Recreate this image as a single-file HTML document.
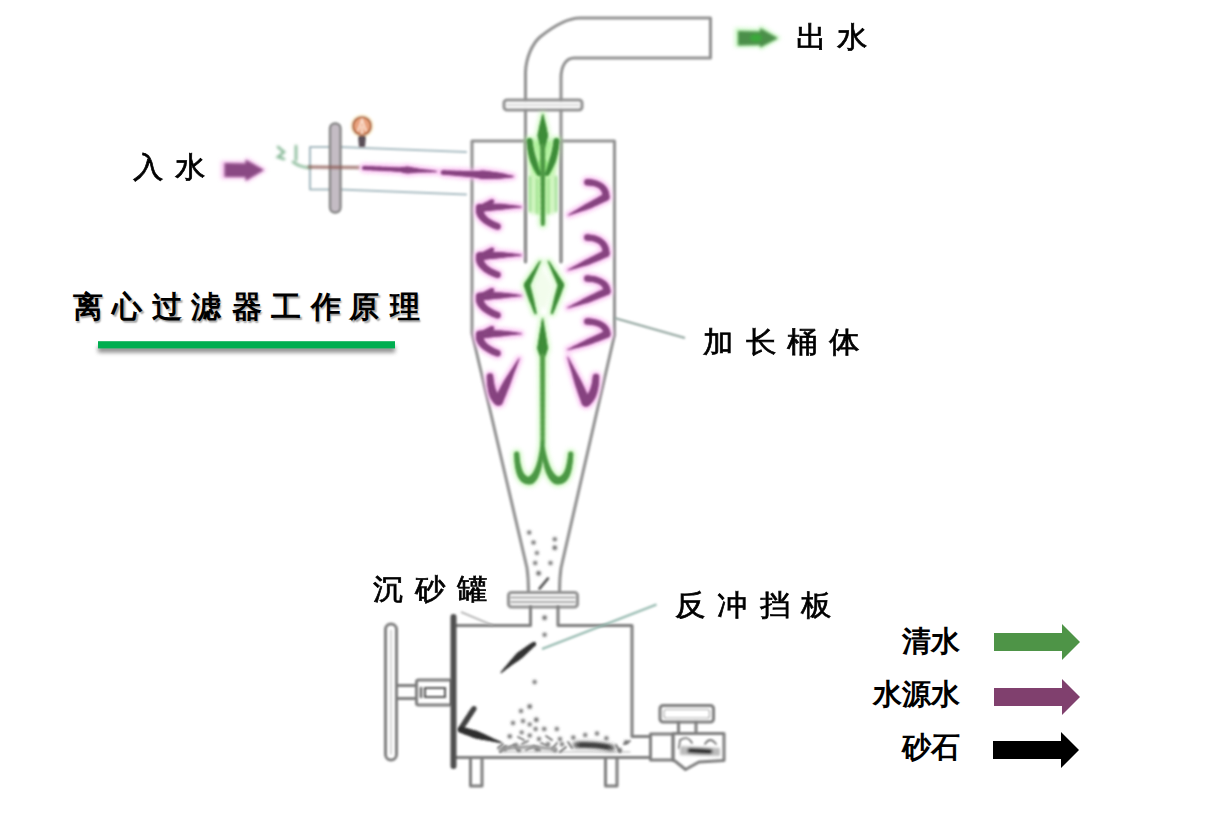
<!DOCTYPE html>
<html><head><meta charset="utf-8">
<style>
html,body{margin:0;padding:0;background:#fff;}
body{width:1210px;height:821px;overflow:hidden;position:relative;font-family:"Liberation Sans",sans-serif;}
svg{position:absolute;left:0;top:0;}
.t{position:absolute;white-space:nowrap;line-height:1;color:#000;-webkit-text-stroke:0.7px #000;}
.tt{font-weight:bold;-webkit-text-stroke:0;text-shadow:1.5px 2px 1.5px rgba(0,0,0,0.35);}
.lg{font-weight:bold;-webkit-text-stroke:0;}
</style></head><body>
<svg width="1210" height="821" viewBox="0 0 1210 821">
<defs>
  <filter id="blur1" filterUnits="userSpaceOnUse" x="0" y="0" width="1210" height="821"><feGaussianBlur stdDeviation="1.1"/></filter>
  <filter id="soft" filterUnits="userSpaceOnUse" x="0" y="0" width="1210" height="821"><feGaussianBlur stdDeviation="1.0"/></filter>
  <filter id="soft2" filterUnits="userSpaceOnUse" x="0" y="0" width="1210" height="821"><feGaussianBlur stdDeviation="1.4"/></filter>
  <filter id="glow" filterUnits="userSpaceOnUse" x="0" y="0" width="1210" height="821"><feGaussianBlur stdDeviation="2.2"/></filter>
  <filter id="shadow2" filterUnits="userSpaceOnUse" x="0" y="0" width="1210" height="821"><feGaussianBlur stdDeviation="2"/></filter>
  <filter id="shadow" filterUnits="userSpaceOnUse" x="0" y="0" width="1210" height="821"><feGaussianBlur stdDeviation="1.3"/></filter>
</defs>
<g fill="none" stroke="#929292" stroke-width="3.1" stroke-linejoin="round" stroke-linecap="round" filter="url(#blur1)">
  <!-- outlet elbow -->
  <path d="M525.5,100 L525.5,72 C526,58 532,44 540,37 C550,29 565,18 580,18 L710.5,18 L710.5,58 L574,58 C566,58 561,66 561,78 L561,100"/>
  <!-- top flange -->
  <rect x="504" y="100" width="78" height="10" rx="3"/>
  <path d="M507,105 L579,105" stroke-width="1" stroke="#b5b5b5"/>
  <!-- inner tube -->
  <path d="M525.5,110 L525.5,262 M561,110 L561,262"/>
  <!-- cylinder + cone -->
  <path d="M525.5,141 L472,141 L472,333 L527,568 C528,575 528.5,582 528.5,592"/>
  <path d="M561,141 L614.5,141 L614.5,335 L561,568 C560,575 559.5,582 559.5,592"/>
  <!-- bottom flange -->
  <rect x="508.5" y="592.5" width="69" height="14.5" rx="3"/>
  <path d="M511,597.5 L575,597.5 M511,602 L575,602" stroke-width="1.3" stroke="#888"/>
  <!-- inlet pipe -->
  <g stroke="#a9bcc2" stroke-width="2.2">
  <path d="M340,147 L466,152 M340,189.5 L466,194.5 M330,147 L310,147 L310,189.5 L330,189.5"/>
  </g>
</g>
<g fill="none" stroke="#7e7e7e" stroke-width="3.0" stroke-linejoin="round" stroke-linecap="round" filter="url(#blur1)">
  <!-- tube to tank -->
  <path d="M530.5,607 L530.5,625.5 L455,625.5 M558,607 L558,625.5 L632,625.5 L632,736.5 L649,736.5"/>
  <!-- tank bottom -->
  <path d="M455,757.5 L649,757.5"/>
  <path d="M500,752 L630,752" stroke-width="1.2" stroke="#b0b0b0"/>
  <!-- legs -->
  <path d="M470.5,757.5 L470.5,786 L482,786 L482,757.5 M605.5,757.5 L605.5,786 L617,786 L617,757.5"/>
  <!-- left handle -->
  <rect x="385.5" y="624" width="11" height="136" rx="5.5"/>
  <path d="M391,630 L391,754" stroke-width="1.2" stroke="#bbb"/>
  <path d="M396.5,685.5 L416.5,685.5 M396.5,698.5 L416.5,698.5"/>
  <rect x="416.5" y="680" width="35" height="25" rx="2"/>
  <path d="M424,688 L446,688 M424,697 L446,697" stroke-width="1.2" stroke="#777"/>
  <path d="M421,688 L421,697" stroke-width="2.5" stroke="#666"/>
  <rect x="425" y="688" width="20" height="9" stroke="#555" stroke-width="2"/>
  <!-- right valve -->
  <rect x="650.5" y="734" width="22.5" height="26"/>
  <path d="M673,733.5 L724,733.5 L724,760.5 L699,762 L685.5,769.5 L675,761 L673,760.5 Z"/>
  <rect x="660" y="705.5" width="53.5" height="16.5" rx="3"/>
  <rect x="664" y="709.5" width="45.5" height="8.5" rx="2" stroke-width="1.2" stroke="#aaa"/>
  <path d="M678.5,722 L678.5,733.5 M696,722 L696,733.5"/>
  <path d="M679,748 L680,740 Q688,735 692,743 M705,744 Q710,736 716,744" stroke-width="1.8" stroke="#777"/>
</g>
<!-- valve inner blob -->
<g filter="url(#soft2)">
<path d="M680,746 L720,748 L720,756 L680,755 Z" fill="#bbb"/>
<path d="M690,750.5 L710,751.5" stroke="#222" stroke-width="5" stroke-linecap="round"/>
</g>
<!-- sand dots -->
<g fill="#555" filter="url(#soft2)">
  <circle cx="529.7" cy="706.5" r="2.2"/><circle cx="521" cy="711" r="2"/><circle cx="513" cy="723" r="2"/>
  <circle cx="523" cy="721" r="2"/><circle cx="536.3" cy="719.8" r="2.2"/><circle cx="529.7" cy="724.4" r="1.9"/>
  <circle cx="535.6" cy="729" r="2"/><circle cx="544.2" cy="729" r="2.1"/><circle cx="556.8" cy="729" r="2"/>
  <circle cx="521.7" cy="732.3" r="1.9"/><circle cx="529.7" cy="735.6" r="2"/><circle cx="509.8" cy="736.3" r="2.1"/>
  <circle cx="539" cy="739" r="2"/><circle cx="560" cy="739" r="2"/><circle cx="562" cy="744.2" r="2"/>
  <circle cx="573.3" cy="737.6" r="2"/><circle cx="585.2" cy="735" r="2"/><circle cx="597" cy="733.6" r="2"/>
  <circle cx="606.4" cy="738.3" r="2"/><circle cx="626.2" cy="742.2" r="2"/><circle cx="516" cy="745" r="1.9"/>
  <circle cx="548" cy="744" r="1.9"/><circle cx="505" cy="749" r="1.9"/><circle cx="537" cy="749" r="2.2"/>
  <circle cx="519" cy="750" r="1.9"/><circle cx="555" cy="750" r="1.9"/><circle cx="620" cy="750" r="1.9"/>
  <circle cx="534.6" cy="682" r="2"/>
  <!-- cone particles -->
  <circle cx="529.2" cy="532.4" r="2"/><circle cx="533.5" cy="542.6" r="2"/><circle cx="536.9" cy="552.9" r="1.9"/>
  <circle cx="535.2" cy="563.1" r="2"/><circle cx="538.6" cy="573.3" r="2.2"/><circle cx="554.8" cy="539.2" r="2"/>
  <circle cx="554.8" cy="547.7" r="2.2"/><circle cx="550.5" cy="563.1" r="2"/><circle cx="544.6" cy="617.7" r="2.2"/>
  <circle cx="544.6" cy="634.7" r="2"/>
</g>
<path d="M548,578.4 L539.5,588.7" stroke="#555" stroke-width="2.6" stroke-linecap="round" filter="url(#soft)"/>
<!-- dark sand streaks -->
<path d="M576,745 Q595,744 612,748" stroke="#3a3a3a" stroke-width="5.5" stroke-linecap="round" fill="none" filter="url(#glow)"/>
<path d="M580,745 Q595,744.5 608,747" stroke="#333" stroke-width="3" stroke-linecap="round" fill="none" filter="url(#soft2)"/>
<g stroke="#6a6a6a" stroke-width="1.8" stroke-linecap="round" fill="none" filter="url(#soft)">
<path d="M500,752 L506,746 M508,748 L514,745 L518,750 M522,744 L528,741 M526,750 L534,746 L540,750 M541,743 L548,746 M552,749 L557,743 M560,752 L566,747 M568,742 L572,748 M518,737 L524,740 M546,736 L552,740 M498,748 L503,744 M616,745 L620,752 M624,744 L630,741"/>
</g>
<path d="M500,749 Q525,745 555,749" stroke="#999" stroke-width="3.5" stroke-linecap="round" fill="none" filter="url(#soft2)"/>
<!-- black arrows in tank -->
<g filter="url(#soft)"><g fill="#333"><circle cx="501.3" cy="672.4" r="0.80"/><circle cx="502.2" cy="671.5" r="0.93"/><circle cx="503.2" cy="670.6" r="1.06"/><circle cx="504.1" cy="669.7" r="1.19"/><circle cx="505.0" cy="668.8" r="1.33"/><circle cx="505.9" cy="667.9" r="1.46"/><circle cx="506.8" cy="667.1" r="1.59"/><circle cx="507.8" cy="666.2" r="1.72"/><circle cx="508.7" cy="665.3" r="1.85"/><circle cx="509.6" cy="664.5" r="1.98"/><circle cx="510.5" cy="663.6" r="2.11"/><circle cx="511.4" cy="662.8" r="2.24"/><circle cx="512.4" cy="662.0" r="2.38"/><circle cx="513.3" cy="661.1" r="2.51"/><circle cx="514.2" cy="660.3" r="2.64"/><circle cx="515.1" cy="659.5" r="2.77"/><circle cx="516.0" cy="658.7" r="2.90"/><circle cx="516.9" cy="657.9" r="3.03"/><circle cx="517.8" cy="657.1" r="3.16"/><circle cx="518.7" cy="656.3" r="3.29"/><circle cx="519.6" cy="655.5" r="3.39"/><circle cx="520.5" cy="654.8" r="3.31"/><circle cx="521.4" cy="654.0" r="3.24"/><circle cx="522.4" cy="653.2" r="3.16"/><circle cx="523.3" cy="652.5" r="3.09"/><circle cx="524.2" cy="651.7" r="3.01"/><circle cx="525.1" cy="651.0" r="2.94"/><circle cx="526.0" cy="650.3" r="2.87"/><circle cx="526.9" cy="649.6" r="2.79"/><circle cx="527.8" cy="648.8" r="2.72"/><circle cx="528.6" cy="648.1" r="2.64"/><circle cx="529.5" cy="647.4" r="2.57"/><circle cx="530.4" cy="646.7" r="2.50"/><circle cx="531.3" cy="646.0" r="2.42"/><circle cx="532.2" cy="645.3" r="2.35"/><circle cx="533.1" cy="644.7" r="2.27"/><circle cx="534.0" cy="644.0" r="2.20"/></g><g fill="#444"><circle cx="460.5" cy="729.0" r="2.60"/><circle cx="461.2" cy="728.0" r="2.60"/><circle cx="461.8" cy="727.0" r="2.60"/><circle cx="462.5" cy="726.0" r="2.60"/><circle cx="463.1" cy="725.0" r="2.60"/><circle cx="463.8" cy="724.0" r="2.60"/><circle cx="464.4" cy="723.0" r="2.60"/><circle cx="465.1" cy="721.9" r="2.60"/><circle cx="465.8" cy="720.9" r="2.60"/><circle cx="466.5" cy="719.9" r="2.60"/><circle cx="467.1" cy="718.9" r="2.60"/><circle cx="467.8" cy="717.8" r="2.60"/><circle cx="468.5" cy="716.8" r="2.60"/><circle cx="469.2" cy="715.8" r="2.60"/><circle cx="469.8" cy="714.8" r="2.60"/><circle cx="470.5" cy="713.7" r="2.60"/><circle cx="471.2" cy="712.7" r="2.60"/><circle cx="471.9" cy="711.6" r="2.60"/><circle cx="472.6" cy="710.6" r="2.60"/><circle cx="473.3" cy="709.5" r="2.60"/><circle cx="474.0" cy="708.5" r="2.60"/></g><g fill="#2f2f2f"><circle cx="501.2" cy="742.6" r="0.80"/><circle cx="500.0" cy="742.2" r="0.94"/><circle cx="498.8" cy="741.8" r="1.09"/><circle cx="497.6" cy="741.5" r="1.23"/><circle cx="496.4" cy="741.1" r="1.37"/><circle cx="495.2" cy="740.7" r="1.51"/><circle cx="494.0" cy="740.3" r="1.66"/><circle cx="492.8" cy="740.0" r="1.80"/><circle cx="491.6" cy="739.6" r="1.94"/><circle cx="490.4" cy="739.2" r="2.09"/><circle cx="489.2" cy="738.8" r="2.23"/><circle cx="488.0" cy="738.5" r="2.37"/><circle cx="486.9" cy="738.1" r="2.51"/><circle cx="485.7" cy="737.7" r="2.66"/><circle cx="484.5" cy="737.3" r="2.80"/><circle cx="483.3" cy="737.0" r="2.94"/><circle cx="482.2" cy="736.6" r="3.09"/><circle cx="481.0" cy="736.2" r="3.23"/><circle cx="479.8" cy="735.8" r="3.37"/><circle cx="478.7" cy="735.5" r="3.51"/><circle cx="477.5" cy="735.1" r="3.66"/><circle cx="476.4" cy="734.7" r="3.80"/><circle cx="475.2" cy="734.3" r="3.74"/><circle cx="474.1" cy="734.0" r="3.69"/><circle cx="472.9" cy="733.6" r="3.63"/><circle cx="471.8" cy="733.2" r="3.57"/><circle cx="470.6" cy="732.8" r="3.51"/><circle cx="469.5" cy="732.5" r="3.46"/><circle cx="468.4" cy="732.1" r="3.40"/><circle cx="467.2" cy="731.7" r="3.34"/><circle cx="466.1" cy="731.4" r="3.29"/><circle cx="465.0" cy="731.0" r="3.23"/><circle cx="463.9" cy="730.6" r="3.17"/><circle cx="462.7" cy="730.2" r="3.11"/><circle cx="461.6" cy="729.9" r="3.06"/><circle cx="460.5" cy="729.5" r="3.00"/></g></g>
<!-- left plate -->
<path d="M453.5,617 L453.5,766" stroke="#4f4f4f" stroke-width="6" stroke-linecap="round" filter="url(#blur1)"/>
<!-- inlet vertical flange -->
<rect x="330" y="123.5" width="10.5" height="89" rx="5" fill="#c4bcc4" stroke="#858585" stroke-width="2.4" filter="url(#blur1)"/>
<!-- gauge -->
<g filter="url(#soft)">
<circle cx="362" cy="126" r="12" fill="#fdf3dc"/>
<path d="M358,136 L366,136 L365,147 L359,147 Z" fill="#5a5058"/>
<circle cx="362" cy="126" r="9" fill="#e9a27e" stroke="#b0683e" stroke-width="2.2"/>
<path d="M358,131 L362,120 L366,131 M362,126 L362,134" stroke="#fbe1d0" stroke-width="1.8" fill="none"/>
</g>
<!-- green squiggle near inlet -->
<path d="M278,147 L284,152 L278,157 L284,159 M296,146 L296,160 M293,162 Q300,167.5 310,167.5" stroke="#86b896" stroke-width="2.6" fill="none" stroke-linecap="round" filter="url(#soft2)"/>
<path d="M308,167 L360,167.5" stroke="#8c5a52" stroke-width="2.4" filter="url(#soft2)"/>
<!-- leader lines -->
<path d="M614.5,318 L685,338" stroke="#8fa39c" stroke-width="2" filter="url(#blur1)"/>
<path d="M656.5,604.5 L542,649" stroke="#8fb5aa" stroke-width="2" filter="url(#blur1)"/>
<path d="M461,612 L493,625.5" stroke="#a9a9a9" stroke-width="1.6" filter="url(#blur1)"/>
<!-- legend arrows -->
<path d="M994,633 L1062,633 L1062,624 L1080,642 L1062,660 L1062,651 L994,651 Z" fill="#4e9447"/>
<path d="M994,688 L1062,688 L1062,679 L1080,697 L1062,715 L1062,706 L994,706 Z" fill="#80406e"/>
<path d="M993,741 L1061,741 L1061,732 L1079,750 L1061,768 L1061,759 L993,759 Z" fill="#000"/>
<!-- title underline -->
<rect x="98" y="346" width="297" height="6.5" fill="#666" filter="url(#shadow2)" opacity="0.75"/>
<rect x="98" y="341.2" width="297" height="7.2" fill="#00ae50"/>
<!-- out arrow (green) -->
<g filter="url(#glow)" opacity="0.75"><path d="M735,28 L760,29 L760,25 L781,38 L760,50 L760,47 L735,47 Z" fill="#b4f5ac"/></g>
<g filter="url(#soft2)"><path d="M738,31 L760,31.5 L760,28 L778,38.3 L760,47.5 L760,45 L738,45.5 Z" fill="#4c8f4a"/>
<ellipse cx="756" cy="38" rx="6" ry="4" fill="#3aa83a"/></g>
<!-- in arrow (magenta) -->
<g filter="url(#glow)" opacity="0.75"><path d="M221,161 L246,161 L246,157 L267,170 L246,183 L246,179 L221,179 Z" fill="#f8b6ee"/></g>
<g filter="url(#soft2)"><path d="M224.5,163 L245.5,163.5 L245.5,159.5 L264,170 L245.5,181 L245.5,177 L224.5,177 Z" fill="#8a4a84"/></g>

<g filter="url(#glow)">
<path d="M528,142 L557,142 L555,214 L530,214 Z" fill="#d0f6bf"/>
<path d="M531,140 L554,140 L543,172 Z" fill="#a6ec94"/>
<path d="M542,268 L533,286 L540,308 L546,308 L553,286 Z" fill="#f2fcec"/>
</g>
<g filter="url(#soft2)">
<ellipse cx="542.5" cy="168" rx="9" ry="8" fill="#5cd04c"/>
<path d="M530,176 L530,212 M537.5,178 L537.5,214 M548,178 L548,214 M556,176 L556,212" stroke="#8fd880" stroke-width="2.2"/>
</g>
<g filter="url(#glow)" opacity="0.8"><g fill="#f9b3ef"><circle cx="521.0" cy="207.0" r="3.20"/><circle cx="519.8" cy="206.9" r="3.34"/><circle cx="518.5" cy="206.9" r="3.47"/><circle cx="517.3" cy="206.8" r="3.61"/><circle cx="516.1" cy="206.8" r="3.74"/><circle cx="514.8" cy="206.8" r="3.88"/><circle cx="513.6" cy="206.7" r="4.01"/><circle cx="512.4" cy="206.7" r="4.15"/><circle cx="511.2" cy="206.7" r="4.28"/><circle cx="510.0" cy="206.7" r="4.42"/><circle cx="508.7" cy="206.7" r="4.55"/><circle cx="507.5" cy="206.7" r="4.69"/><circle cx="506.3" cy="206.7" r="4.82"/><circle cx="505.1" cy="206.7" r="4.96"/><circle cx="503.9" cy="206.7" r="5.09"/><circle cx="502.7" cy="206.7" r="5.23"/><circle cx="501.5" cy="206.7" r="5.36"/><circle cx="500.2" cy="206.8" r="5.50"/><circle cx="499.0" cy="206.8" r="5.56"/><circle cx="497.8" cy="206.8" r="5.62"/><circle cx="496.6" cy="206.9" r="5.68"/><circle cx="495.4" cy="206.9" r="5.74"/><circle cx="494.2" cy="207.0" r="5.79"/><circle cx="493.0" cy="207.0" r="5.85"/><circle cx="491.9" cy="207.1" r="5.91"/><circle cx="490.7" cy="207.2" r="5.97"/><circle cx="489.5" cy="207.2" r="6.03"/><circle cx="488.3" cy="207.3" r="6.09"/><circle cx="487.1" cy="207.4" r="6.15"/><circle cx="485.9" cy="207.5" r="6.21"/><circle cx="484.7" cy="207.6" r="6.26"/><circle cx="483.5" cy="207.7" r="6.32"/><circle cx="482.4" cy="207.8" r="6.38"/><circle cx="481.2" cy="207.9" r="6.44"/><circle cx="480.0" cy="208.0" r="6.50"/></g>
<g fill="#f9b3ef"><circle cx="480.0" cy="208.0" r="6.50"/><circle cx="479.9" cy="208.9" r="6.43"/><circle cx="479.8" cy="209.9" r="6.36"/><circle cx="479.8" cy="210.8" r="6.29"/><circle cx="480.0" cy="211.7" r="6.22"/><circle cx="480.1" cy="212.6" r="6.15"/><circle cx="480.4" cy="213.5" r="6.08"/><circle cx="480.8" cy="214.4" r="6.01"/><circle cx="481.2" cy="215.2" r="5.94"/><circle cx="481.7" cy="216.1" r="5.87"/><circle cx="482.3" cy="216.9" r="5.80"/><circle cx="483.0" cy="217.7" r="5.73"/><circle cx="483.8" cy="218.5" r="5.70"/><circle cx="484.6" cy="219.3" r="5.70"/><circle cx="485.5" cy="220.1" r="5.70"/><circle cx="486.5" cy="220.9" r="5.70"/><circle cx="487.6" cy="221.6" r="5.70"/><circle cx="488.8" cy="222.3" r="5.70"/><circle cx="490.0" cy="223.1" r="5.70"/><circle cx="491.4" cy="223.8" r="5.70"/><circle cx="492.8" cy="224.5" r="5.70"/><circle cx="494.3" cy="225.2" r="5.70"/><circle cx="495.8" cy="225.8" r="5.70"/><circle cx="497.5" cy="226.5" r="5.70"/></g>
<g fill="#f9b3ef"><circle cx="485.0" cy="206.0" r="5.50"/><circle cx="486.2" cy="205.2" r="5.37"/><circle cx="487.3" cy="204.5" r="5.23"/><circle cx="488.5" cy="203.8" r="5.10"/><circle cx="489.7" cy="203.0" r="4.97"/><circle cx="490.8" cy="202.2" r="4.83"/><circle cx="492.0" cy="201.5" r="4.70"/></g>
<g fill="#f9b3ef"><circle cx="521.0" cy="255.3" r="3.20"/><circle cx="519.8" cy="255.2" r="3.34"/><circle cx="518.5" cy="255.2" r="3.47"/><circle cx="517.3" cy="255.1" r="3.61"/><circle cx="516.1" cy="255.1" r="3.74"/><circle cx="514.8" cy="255.1" r="3.88"/><circle cx="513.6" cy="255.0" r="4.01"/><circle cx="512.4" cy="255.0" r="4.15"/><circle cx="511.2" cy="255.0" r="4.28"/><circle cx="510.0" cy="255.0" r="4.42"/><circle cx="508.7" cy="255.0" r="4.55"/><circle cx="507.5" cy="255.0" r="4.69"/><circle cx="506.3" cy="255.0" r="4.82"/><circle cx="505.1" cy="255.0" r="4.96"/><circle cx="503.9" cy="255.0" r="5.09"/><circle cx="502.7" cy="255.0" r="5.23"/><circle cx="501.5" cy="255.0" r="5.36"/><circle cx="500.2" cy="255.1" r="5.50"/><circle cx="499.0" cy="255.1" r="5.56"/><circle cx="497.8" cy="255.1" r="5.62"/><circle cx="496.6" cy="255.2" r="5.68"/><circle cx="495.4" cy="255.2" r="5.74"/><circle cx="494.2" cy="255.3" r="5.79"/><circle cx="493.0" cy="255.3" r="5.85"/><circle cx="491.9" cy="255.4" r="5.91"/><circle cx="490.7" cy="255.5" r="5.97"/><circle cx="489.5" cy="255.5" r="6.03"/><circle cx="488.3" cy="255.6" r="6.09"/><circle cx="487.1" cy="255.7" r="6.15"/><circle cx="485.9" cy="255.8" r="6.21"/><circle cx="484.7" cy="255.9" r="6.26"/><circle cx="483.5" cy="256.0" r="6.32"/><circle cx="482.4" cy="256.1" r="6.38"/><circle cx="481.2" cy="256.2" r="6.44"/><circle cx="480.0" cy="256.3" r="6.50"/></g>
<g fill="#f9b3ef"><circle cx="480.0" cy="256.3" r="6.50"/><circle cx="479.9" cy="257.2" r="6.43"/><circle cx="479.8" cy="258.2" r="6.36"/><circle cx="479.8" cy="259.1" r="6.29"/><circle cx="480.0" cy="260.0" r="6.22"/><circle cx="480.1" cy="260.9" r="6.15"/><circle cx="480.4" cy="261.8" r="6.08"/><circle cx="480.8" cy="262.7" r="6.01"/><circle cx="481.2" cy="263.5" r="5.94"/><circle cx="481.7" cy="264.4" r="5.87"/><circle cx="482.3" cy="265.2" r="5.80"/><circle cx="483.0" cy="266.0" r="5.73"/><circle cx="483.8" cy="266.8" r="5.70"/><circle cx="484.6" cy="267.6" r="5.70"/><circle cx="485.5" cy="268.4" r="5.70"/><circle cx="486.5" cy="269.2" r="5.70"/><circle cx="487.6" cy="269.9" r="5.70"/><circle cx="488.8" cy="270.6" r="5.70"/><circle cx="490.0" cy="271.4" r="5.70"/><circle cx="491.4" cy="272.1" r="5.70"/><circle cx="492.8" cy="272.8" r="5.70"/><circle cx="494.3" cy="273.5" r="5.70"/><circle cx="495.8" cy="274.1" r="5.70"/><circle cx="497.5" cy="274.8" r="5.70"/></g>
<g fill="#f9b3ef"><circle cx="485.0" cy="254.3" r="5.50"/><circle cx="486.2" cy="253.6" r="5.37"/><circle cx="487.3" cy="252.8" r="5.23"/><circle cx="488.5" cy="252.1" r="5.10"/><circle cx="489.7" cy="251.3" r="4.97"/><circle cx="490.8" cy="250.6" r="4.83"/><circle cx="492.0" cy="249.8" r="4.70"/></g>
<g fill="#f9b3ef"><circle cx="521.0" cy="295.7" r="3.20"/><circle cx="519.8" cy="295.6" r="3.34"/><circle cx="518.5" cy="295.6" r="3.47"/><circle cx="517.3" cy="295.5" r="3.61"/><circle cx="516.1" cy="295.5" r="3.74"/><circle cx="514.8" cy="295.5" r="3.88"/><circle cx="513.6" cy="295.4" r="4.01"/><circle cx="512.4" cy="295.4" r="4.15"/><circle cx="511.2" cy="295.4" r="4.28"/><circle cx="510.0" cy="295.4" r="4.42"/><circle cx="508.7" cy="295.4" r="4.55"/><circle cx="507.5" cy="295.4" r="4.69"/><circle cx="506.3" cy="295.4" r="4.82"/><circle cx="505.1" cy="295.4" r="4.96"/><circle cx="503.9" cy="295.4" r="5.09"/><circle cx="502.7" cy="295.4" r="5.23"/><circle cx="501.5" cy="295.4" r="5.36"/><circle cx="500.2" cy="295.4" r="5.50"/><circle cx="499.0" cy="295.5" r="5.56"/><circle cx="497.8" cy="295.5" r="5.62"/><circle cx="496.6" cy="295.6" r="5.68"/><circle cx="495.4" cy="295.6" r="5.74"/><circle cx="494.2" cy="295.7" r="5.79"/><circle cx="493.0" cy="295.7" r="5.85"/><circle cx="491.9" cy="295.8" r="5.91"/><circle cx="490.7" cy="295.9" r="5.97"/><circle cx="489.5" cy="295.9" r="6.03"/><circle cx="488.3" cy="296.0" r="6.09"/><circle cx="487.1" cy="296.1" r="6.15"/><circle cx="485.9" cy="296.2" r="6.21"/><circle cx="484.7" cy="296.3" r="6.26"/><circle cx="483.5" cy="296.4" r="6.32"/><circle cx="482.4" cy="296.5" r="6.38"/><circle cx="481.2" cy="296.6" r="6.44"/><circle cx="480.0" cy="296.7" r="6.50"/></g>
<g fill="#f9b3ef"><circle cx="480.0" cy="296.7" r="6.50"/><circle cx="479.9" cy="297.6" r="6.43"/><circle cx="479.8" cy="298.6" r="6.36"/><circle cx="479.8" cy="299.5" r="6.29"/><circle cx="480.0" cy="300.4" r="6.22"/><circle cx="480.1" cy="301.3" r="6.15"/><circle cx="480.4" cy="302.2" r="6.08"/><circle cx="480.8" cy="303.1" r="6.01"/><circle cx="481.2" cy="303.9" r="5.94"/><circle cx="481.7" cy="304.8" r="5.87"/><circle cx="482.3" cy="305.6" r="5.80"/><circle cx="483.0" cy="306.4" r="5.73"/><circle cx="483.8" cy="307.2" r="5.70"/><circle cx="484.6" cy="308.0" r="5.70"/><circle cx="485.5" cy="308.8" r="5.70"/><circle cx="486.5" cy="309.6" r="5.70"/><circle cx="487.6" cy="310.3" r="5.70"/><circle cx="488.8" cy="311.0" r="5.70"/><circle cx="490.0" cy="311.8" r="5.70"/><circle cx="491.4" cy="312.5" r="5.70"/><circle cx="492.8" cy="313.2" r="5.70"/><circle cx="494.3" cy="313.9" r="5.70"/><circle cx="495.8" cy="314.5" r="5.70"/><circle cx="497.5" cy="315.2" r="5.70"/></g>
<g fill="#f9b3ef"><circle cx="485.0" cy="294.7" r="5.50"/><circle cx="486.2" cy="293.9" r="5.37"/><circle cx="487.3" cy="293.2" r="5.23"/><circle cx="488.5" cy="292.4" r="5.10"/><circle cx="489.7" cy="291.7" r="4.97"/><circle cx="490.8" cy="290.9" r="4.83"/><circle cx="492.0" cy="290.2" r="4.70"/></g>
<g fill="#f9b3ef"><circle cx="521.0" cy="333.7" r="3.20"/><circle cx="519.8" cy="333.6" r="3.34"/><circle cx="518.5" cy="333.6" r="3.47"/><circle cx="517.3" cy="333.5" r="3.61"/><circle cx="516.1" cy="333.5" r="3.74"/><circle cx="514.8" cy="333.5" r="3.88"/><circle cx="513.6" cy="333.4" r="4.01"/><circle cx="512.4" cy="333.4" r="4.15"/><circle cx="511.2" cy="333.4" r="4.28"/><circle cx="510.0" cy="333.4" r="4.42"/><circle cx="508.7" cy="333.4" r="4.55"/><circle cx="507.5" cy="333.4" r="4.69"/><circle cx="506.3" cy="333.4" r="4.82"/><circle cx="505.1" cy="333.4" r="4.96"/><circle cx="503.9" cy="333.4" r="5.09"/><circle cx="502.7" cy="333.4" r="5.23"/><circle cx="501.5" cy="333.4" r="5.36"/><circle cx="500.2" cy="333.4" r="5.50"/><circle cx="499.0" cy="333.5" r="5.56"/><circle cx="497.8" cy="333.5" r="5.62"/><circle cx="496.6" cy="333.6" r="5.68"/><circle cx="495.4" cy="333.6" r="5.74"/><circle cx="494.2" cy="333.7" r="5.79"/><circle cx="493.0" cy="333.7" r="5.85"/><circle cx="491.9" cy="333.8" r="5.91"/><circle cx="490.7" cy="333.9" r="5.97"/><circle cx="489.5" cy="333.9" r="6.03"/><circle cx="488.3" cy="334.0" r="6.09"/><circle cx="487.1" cy="334.1" r="6.15"/><circle cx="485.9" cy="334.2" r="6.21"/><circle cx="484.7" cy="334.3" r="6.26"/><circle cx="483.5" cy="334.4" r="6.32"/><circle cx="482.4" cy="334.5" r="6.38"/><circle cx="481.2" cy="334.6" r="6.44"/><circle cx="480.0" cy="334.7" r="6.50"/></g>
<g fill="#f9b3ef"><circle cx="480.0" cy="334.7" r="6.50"/><circle cx="479.9" cy="335.6" r="6.43"/><circle cx="479.8" cy="336.6" r="6.36"/><circle cx="479.8" cy="337.5" r="6.29"/><circle cx="480.0" cy="338.4" r="6.22"/><circle cx="480.1" cy="339.3" r="6.15"/><circle cx="480.4" cy="340.2" r="6.08"/><circle cx="480.8" cy="341.1" r="6.01"/><circle cx="481.2" cy="341.9" r="5.94"/><circle cx="481.7" cy="342.8" r="5.87"/><circle cx="482.3" cy="343.6" r="5.80"/><circle cx="483.0" cy="344.4" r="5.73"/><circle cx="483.8" cy="345.2" r="5.70"/><circle cx="484.6" cy="346.0" r="5.70"/><circle cx="485.5" cy="346.8" r="5.70"/><circle cx="486.5" cy="347.6" r="5.70"/><circle cx="487.6" cy="348.3" r="5.70"/><circle cx="488.8" cy="349.0" r="5.70"/><circle cx="490.0" cy="349.8" r="5.70"/><circle cx="491.4" cy="350.5" r="5.70"/><circle cx="492.8" cy="351.2" r="5.70"/><circle cx="494.3" cy="351.9" r="5.70"/><circle cx="495.8" cy="352.5" r="5.70"/><circle cx="497.5" cy="353.2" r="5.70"/></g>
<g fill="#f9b3ef"><circle cx="485.0" cy="332.7" r="5.50"/><circle cx="486.2" cy="331.9" r="5.37"/><circle cx="487.3" cy="331.2" r="5.23"/><circle cx="488.5" cy="330.4" r="5.10"/><circle cx="489.7" cy="329.7" r="4.97"/><circle cx="490.8" cy="328.9" r="4.83"/><circle cx="492.0" cy="328.2" r="4.70"/></g>
<g fill="#f9b3ef"><circle cx="568.5" cy="215.0" r="3.10"/><circle cx="569.6" cy="214.5" r="3.23"/><circle cx="570.7" cy="214.1" r="3.36"/><circle cx="571.8" cy="213.6" r="3.49"/><circle cx="572.9" cy="213.1" r="3.62"/><circle cx="574.0" cy="212.6" r="3.75"/><circle cx="575.1" cy="212.1" r="3.88"/><circle cx="576.2" cy="211.6" r="4.01"/><circle cx="577.3" cy="211.1" r="4.14"/><circle cx="578.4" cy="210.6" r="4.26"/><circle cx="579.5" cy="210.1" r="4.39"/><circle cx="580.6" cy="209.6" r="4.52"/><circle cx="581.7" cy="209.1" r="4.65"/><circle cx="582.8" cy="208.6" r="4.78"/><circle cx="583.9" cy="208.1" r="4.91"/><circle cx="585.0" cy="207.6" r="5.04"/><circle cx="586.1" cy="207.0" r="5.17"/><circle cx="587.2" cy="206.5" r="5.30"/><circle cx="588.4" cy="206.0" r="5.34"/><circle cx="589.5" cy="205.4" r="5.38"/><circle cx="590.6" cy="204.9" r="5.42"/><circle cx="591.7" cy="204.4" r="5.46"/><circle cx="592.8" cy="203.8" r="5.51"/><circle cx="593.9" cy="203.3" r="5.55"/><circle cx="595.0" cy="202.7" r="5.59"/><circle cx="596.1" cy="202.2" r="5.63"/><circle cx="597.2" cy="201.6" r="5.67"/><circle cx="598.3" cy="201.0" r="5.71"/><circle cx="599.4" cy="200.5" r="5.75"/><circle cx="600.5" cy="199.9" r="5.79"/><circle cx="601.6" cy="199.3" r="5.84"/><circle cx="602.7" cy="198.7" r="5.88"/><circle cx="603.8" cy="198.2" r="5.92"/><circle cx="604.9" cy="197.6" r="5.96"/><circle cx="606.0" cy="197.0" r="6.00"/></g>
<g fill="#f9b3ef"><circle cx="606.0" cy="197.0" r="5.90"/><circle cx="606.0" cy="195.8" r="5.85"/><circle cx="605.8" cy="194.6" r="5.79"/><circle cx="605.7" cy="193.5" r="5.74"/><circle cx="605.4" cy="192.4" r="5.68"/><circle cx="605.0" cy="191.4" r="5.63"/><circle cx="604.6" cy="190.4" r="5.57"/><circle cx="604.1" cy="189.5" r="5.52"/><circle cx="603.5" cy="188.7" r="5.46"/><circle cx="602.9" cy="187.9" r="5.41"/><circle cx="602.2" cy="187.1" r="5.35"/><circle cx="601.4" cy="186.4" r="5.30"/><circle cx="600.5" cy="185.8" r="5.34"/><circle cx="599.5" cy="185.2" r="5.37"/><circle cx="598.5" cy="184.6" r="5.41"/><circle cx="597.4" cy="184.1" r="5.45"/><circle cx="596.2" cy="183.7" r="5.48"/><circle cx="594.9" cy="183.3" r="5.52"/><circle cx="593.5" cy="183.0" r="5.55"/><circle cx="592.1" cy="182.7" r="5.59"/><circle cx="590.6" cy="182.5" r="5.63"/><circle cx="589.1" cy="182.3" r="5.66"/><circle cx="587.4" cy="182.2" r="5.70"/></g>
<g fill="#f9b3ef"><circle cx="568.0" cy="270.0" r="3.10"/><circle cx="569.1" cy="269.6" r="3.23"/><circle cx="570.2" cy="269.1" r="3.36"/><circle cx="571.4" cy="268.7" r="3.49"/><circle cx="572.5" cy="268.3" r="3.62"/><circle cx="573.6" cy="267.8" r="3.75"/><circle cx="574.7" cy="267.4" r="3.88"/><circle cx="575.8" cy="266.9" r="4.01"/><circle cx="576.9" cy="266.5" r="4.14"/><circle cx="578.1" cy="266.0" r="4.26"/><circle cx="579.2" cy="265.6" r="4.39"/><circle cx="580.3" cy="265.1" r="4.52"/><circle cx="581.4" cy="264.6" r="4.65"/><circle cx="582.5" cy="264.2" r="4.78"/><circle cx="583.6" cy="263.7" r="4.91"/><circle cx="584.8" cy="263.2" r="5.04"/><circle cx="585.9" cy="262.7" r="5.17"/><circle cx="587.0" cy="262.2" r="5.30"/><circle cx="588.1" cy="261.8" r="5.34"/><circle cx="589.2" cy="261.3" r="5.38"/><circle cx="590.4" cy="260.8" r="5.42"/><circle cx="591.5" cy="260.3" r="5.46"/><circle cx="592.6" cy="259.8" r="5.51"/><circle cx="593.7" cy="259.3" r="5.55"/><circle cx="594.8" cy="258.8" r="5.59"/><circle cx="595.9" cy="258.3" r="5.63"/><circle cx="597.1" cy="257.7" r="5.67"/><circle cx="598.2" cy="257.2" r="5.71"/><circle cx="599.3" cy="256.7" r="5.75"/><circle cx="600.4" cy="256.2" r="5.79"/><circle cx="601.5" cy="255.6" r="5.84"/><circle cx="602.6" cy="255.1" r="5.88"/><circle cx="603.8" cy="254.6" r="5.92"/><circle cx="604.9" cy="254.0" r="5.96"/><circle cx="606.0" cy="253.5" r="6.00"/></g>
<g fill="#f9b3ef"><circle cx="606.0" cy="253.5" r="5.90"/><circle cx="606.0" cy="252.2" r="5.85"/><circle cx="605.9" cy="251.0" r="5.80"/><circle cx="605.7" cy="249.8" r="5.74"/><circle cx="605.4" cy="248.7" r="5.69"/><circle cx="605.1" cy="247.6" r="5.64"/><circle cx="604.7" cy="246.6" r="5.59"/><circle cx="604.3" cy="245.7" r="5.53"/><circle cx="603.7" cy="244.8" r="5.48"/><circle cx="603.1" cy="243.9" r="5.43"/><circle cx="602.5" cy="243.1" r="5.38"/><circle cx="601.7" cy="242.4" r="5.33"/><circle cx="600.9" cy="241.7" r="5.32"/><circle cx="600.0" cy="241.0" r="5.35"/><circle cx="599.1" cy="240.4" r="5.39"/><circle cx="598.0" cy="239.9" r="5.42"/><circle cx="597.0" cy="239.4" r="5.46"/><circle cx="595.8" cy="239.0" r="5.49"/><circle cx="594.5" cy="238.6" r="5.53"/><circle cx="593.2" cy="238.3" r="5.56"/><circle cx="591.9" cy="238.0" r="5.60"/><circle cx="590.4" cy="237.8" r="5.63"/><circle cx="588.9" cy="237.6" r="5.67"/><circle cx="587.3" cy="237.5" r="5.70"/></g>
<g fill="#f9b3ef"><circle cx="567.8" cy="307.7" r="3.10"/><circle cx="568.9" cy="307.3" r="3.23"/><circle cx="570.0" cy="306.9" r="3.35"/><circle cx="571.2" cy="306.4" r="3.48"/><circle cx="572.3" cy="306.0" r="3.60"/><circle cx="573.4" cy="305.6" r="3.73"/><circle cx="574.5" cy="305.2" r="3.85"/><circle cx="575.6" cy="304.7" r="3.98"/><circle cx="576.8" cy="304.3" r="4.11"/><circle cx="577.9" cy="303.8" r="4.23"/><circle cx="579.0" cy="303.4" r="4.36"/><circle cx="580.1" cy="302.9" r="4.48"/><circle cx="581.2" cy="302.5" r="4.61"/><circle cx="582.4" cy="302.0" r="4.73"/><circle cx="583.5" cy="301.6" r="4.86"/><circle cx="584.6" cy="301.1" r="4.99"/><circle cx="585.7" cy="300.7" r="5.11"/><circle cx="586.8" cy="300.2" r="5.24"/><circle cx="588.0" cy="299.7" r="5.32"/><circle cx="589.1" cy="299.2" r="5.36"/><circle cx="590.2" cy="298.8" r="5.40"/><circle cx="591.3" cy="298.3" r="5.44"/><circle cx="592.4" cy="297.8" r="5.48"/><circle cx="593.6" cy="297.3" r="5.52"/><circle cx="594.7" cy="296.8" r="5.56"/><circle cx="595.8" cy="296.3" r="5.60"/><circle cx="596.9" cy="295.8" r="5.64"/><circle cx="598.0" cy="295.3" r="5.68"/><circle cx="599.2" cy="294.8" r="5.72"/><circle cx="600.3" cy="294.3" r="5.76"/><circle cx="601.4" cy="293.8" r="5.80"/><circle cx="602.5" cy="293.3" r="5.84"/><circle cx="603.6" cy="292.8" r="5.88"/><circle cx="604.8" cy="292.3" r="5.92"/><circle cx="605.9" cy="291.7" r="5.96"/><circle cx="607.0" cy="291.2" r="6.00"/></g>
<g fill="#f9b3ef"><circle cx="607.0" cy="291.2" r="5.90"/><circle cx="606.9" cy="290.1" r="5.84"/><circle cx="606.6" cy="289.1" r="5.79"/><circle cx="606.4" cy="288.1" r="5.73"/><circle cx="606.0" cy="287.1" r="5.67"/><circle cx="605.5" cy="286.2" r="5.61"/><circle cx="605.0" cy="285.4" r="5.56"/><circle cx="604.4" cy="284.6" r="5.50"/><circle cx="603.7" cy="283.8" r="5.44"/><circle cx="602.9" cy="283.1" r="5.39"/><circle cx="602.0" cy="282.5" r="5.33"/><circle cx="601.1" cy="281.9" r="5.32"/><circle cx="600.1" cy="281.3" r="5.36"/><circle cx="599.0" cy="280.8" r="5.40"/><circle cx="597.8" cy="280.4" r="5.43"/><circle cx="596.5" cy="279.9" r="5.47"/><circle cx="595.2" cy="279.6" r="5.51"/><circle cx="593.8" cy="279.3" r="5.55"/><circle cx="592.3" cy="279.0" r="5.59"/><circle cx="590.7" cy="278.8" r="5.62"/><circle cx="589.0" cy="278.6" r="5.66"/><circle cx="587.3" cy="278.5" r="5.70"/></g>
<g fill="#f9b3ef"><circle cx="567.8" cy="349.6" r="3.10"/><circle cx="568.9" cy="349.2" r="3.23"/><circle cx="570.0" cy="348.8" r="3.35"/><circle cx="571.2" cy="348.4" r="3.48"/><circle cx="572.3" cy="348.0" r="3.60"/><circle cx="573.4" cy="347.6" r="3.73"/><circle cx="574.5" cy="347.2" r="3.85"/><circle cx="575.6" cy="346.8" r="3.98"/><circle cx="576.8" cy="346.4" r="4.11"/><circle cx="577.9" cy="346.0" r="4.23"/><circle cx="579.0" cy="345.6" r="4.36"/><circle cx="580.1" cy="345.1" r="4.48"/><circle cx="581.2" cy="344.7" r="4.61"/><circle cx="582.4" cy="344.3" r="4.73"/><circle cx="583.5" cy="343.8" r="4.86"/><circle cx="584.6" cy="343.4" r="4.99"/><circle cx="585.7" cy="343.0" r="5.11"/><circle cx="586.8" cy="342.5" r="5.24"/><circle cx="588.0" cy="342.1" r="5.32"/><circle cx="589.1" cy="341.6" r="5.36"/><circle cx="590.2" cy="341.2" r="5.40"/><circle cx="591.3" cy="340.7" r="5.44"/><circle cx="592.4" cy="340.3" r="5.48"/><circle cx="593.6" cy="339.8" r="5.52"/><circle cx="594.7" cy="339.3" r="5.56"/><circle cx="595.8" cy="338.9" r="5.60"/><circle cx="596.9" cy="338.4" r="5.64"/><circle cx="598.0" cy="337.9" r="5.68"/><circle cx="599.2" cy="337.4" r="5.72"/><circle cx="600.3" cy="337.0" r="5.76"/><circle cx="601.4" cy="336.5" r="5.80"/><circle cx="602.5" cy="336.0" r="5.84"/><circle cx="603.6" cy="335.5" r="5.88"/><circle cx="604.8" cy="335.0" r="5.92"/><circle cx="605.9" cy="334.5" r="5.96"/><circle cx="607.0" cy="334.0" r="6.00"/></g>
<g fill="#f9b3ef"><circle cx="607.0" cy="334.0" r="5.90"/><circle cx="606.9" cy="332.9" r="5.84"/><circle cx="606.6" cy="331.9" r="5.79"/><circle cx="606.4" cy="330.9" r="5.73"/><circle cx="606.0" cy="330.0" r="5.67"/><circle cx="605.5" cy="329.1" r="5.61"/><circle cx="605.0" cy="328.2" r="5.56"/><circle cx="604.4" cy="327.4" r="5.50"/><circle cx="603.7" cy="326.7" r="5.44"/><circle cx="602.9" cy="326.0" r="5.39"/><circle cx="602.0" cy="325.4" r="5.33"/><circle cx="601.1" cy="324.8" r="5.32"/><circle cx="600.1" cy="324.2" r="5.36"/><circle cx="599.0" cy="323.7" r="5.40"/><circle cx="597.8" cy="323.2" r="5.43"/><circle cx="596.5" cy="322.8" r="5.47"/><circle cx="595.2" cy="322.5" r="5.51"/><circle cx="593.8" cy="322.2" r="5.55"/><circle cx="592.3" cy="321.9" r="5.59"/><circle cx="590.7" cy="321.7" r="5.62"/><circle cx="589.0" cy="321.5" r="5.66"/><circle cx="587.3" cy="321.4" r="5.70"/></g>
<g fill="#f9b3ef"><circle cx="519.2" cy="358.5" r="3.10"/><circle cx="518.6" cy="359.6" r="3.22"/><circle cx="518.1" cy="360.7" r="3.35"/><circle cx="517.5" cy="361.8" r="3.47"/><circle cx="516.9" cy="362.9" r="3.60"/><circle cx="516.4" cy="364.0" r="3.72"/><circle cx="515.8" cy="365.1" r="3.84"/><circle cx="515.2" cy="366.2" r="3.97"/><circle cx="514.7" cy="367.3" r="4.09"/><circle cx="514.1" cy="368.4" r="4.22"/><circle cx="513.6" cy="369.5" r="4.34"/><circle cx="513.0" cy="370.6" r="4.46"/><circle cx="512.5" cy="371.7" r="4.59"/><circle cx="511.9" cy="372.8" r="4.71"/><circle cx="511.4" cy="373.9" r="4.84"/><circle cx="510.8" cy="375.0" r="4.96"/><circle cx="510.3" cy="376.1" r="5.08"/><circle cx="509.8" cy="377.1" r="5.21"/><circle cx="509.2" cy="378.2" r="5.33"/><circle cx="508.7" cy="379.3" r="5.45"/><circle cx="508.2" cy="380.4" r="5.58"/><circle cx="507.6" cy="381.5" r="5.70"/><circle cx="507.1" cy="382.6" r="5.83"/><circle cx="506.6" cy="383.7" r="5.95"/><circle cx="506.1" cy="384.8" r="6.04"/><circle cx="505.5" cy="385.9" r="6.10"/><circle cx="505.0" cy="386.9" r="6.17"/><circle cx="504.5" cy="388.0" r="6.23"/><circle cx="504.0" cy="389.1" r="6.29"/><circle cx="503.5" cy="390.2" r="6.36"/><circle cx="503.0" cy="391.3" r="6.42"/><circle cx="502.5" cy="392.4" r="6.49"/><circle cx="502.0" cy="393.4" r="6.55"/><circle cx="501.5" cy="394.5" r="6.62"/><circle cx="501.0" cy="395.6" r="6.68"/><circle cx="500.5" cy="396.7" r="6.74"/><circle cx="500.0" cy="397.8" r="6.81"/><circle cx="499.5" cy="398.8" r="6.87"/><circle cx="499.0" cy="399.9" r="6.94"/><circle cx="498.5" cy="401.0" r="7.00"/></g>
<g fill="#f9b3ef"><circle cx="498.5" cy="401.0" r="7.00"/><circle cx="497.8" cy="400.5" r="6.94"/><circle cx="497.2" cy="400.0" r="6.88"/><circle cx="496.6" cy="399.4" r="6.82"/><circle cx="496.0" cy="398.7" r="6.76"/><circle cx="495.4" cy="398.0" r="6.70"/><circle cx="494.9" cy="397.2" r="6.65"/><circle cx="494.4" cy="396.4" r="6.59"/><circle cx="493.9" cy="395.4" r="6.53"/><circle cx="493.5" cy="394.5" r="6.47"/><circle cx="493.0" cy="393.5" r="6.41"/><circle cx="492.6" cy="392.4" r="6.35"/><circle cx="492.3" cy="391.2" r="6.29"/><circle cx="491.9" cy="390.0" r="6.23"/><circle cx="491.6" cy="388.8" r="6.17"/><circle cx="491.3" cy="387.4" r="6.11"/><circle cx="491.0" cy="386.1" r="6.05"/><circle cx="490.8" cy="384.6" r="6.00"/><circle cx="490.6" cy="383.1" r="5.94"/><circle cx="490.4" cy="381.5" r="5.88"/><circle cx="490.2" cy="379.9" r="5.82"/><circle cx="490.1" cy="378.2" r="5.76"/><circle cx="490.0" cy="376.5" r="5.70"/></g>
<g fill="#f9b3ef"><circle cx="567.8" cy="357.4" r="3.10"/><circle cx="568.3" cy="358.5" r="3.22"/><circle cx="568.7" cy="359.7" r="3.34"/><circle cx="569.2" cy="360.8" r="3.46"/><circle cx="569.6" cy="361.9" r="3.58"/><circle cx="570.1" cy="363.0" r="3.70"/><circle cx="570.6" cy="364.2" r="3.83"/><circle cx="571.0" cy="365.3" r="3.95"/><circle cx="571.5" cy="366.4" r="4.07"/><circle cx="571.9" cy="367.5" r="4.19"/><circle cx="572.4" cy="368.7" r="4.31"/><circle cx="572.8" cy="369.8" r="4.43"/><circle cx="573.3" cy="370.9" r="4.55"/><circle cx="573.8" cy="372.0" r="4.67"/><circle cx="574.2" cy="373.1" r="4.79"/><circle cx="574.7" cy="374.3" r="4.91"/><circle cx="575.1" cy="375.4" r="5.03"/><circle cx="575.6" cy="376.5" r="5.15"/><circle cx="576.0" cy="377.6" r="5.28"/><circle cx="576.5" cy="378.7" r="5.40"/><circle cx="577.0" cy="379.9" r="5.52"/><circle cx="577.4" cy="381.0" r="5.64"/><circle cx="577.9" cy="382.1" r="5.76"/><circle cx="578.3" cy="383.2" r="5.88"/><circle cx="578.8" cy="384.3" r="6.00"/><circle cx="579.2" cy="385.4" r="6.06"/><circle cx="579.7" cy="386.5" r="6.12"/><circle cx="580.1" cy="387.6" r="6.19"/><circle cx="580.6" cy="388.7" r="6.25"/><circle cx="581.0" cy="389.9" r="6.31"/><circle cx="581.5" cy="391.0" r="6.38"/><circle cx="581.9" cy="392.1" r="6.44"/><circle cx="582.4" cy="393.2" r="6.50"/><circle cx="582.8" cy="394.3" r="6.56"/><circle cx="583.3" cy="395.4" r="6.62"/><circle cx="583.7" cy="396.5" r="6.69"/><circle cx="584.2" cy="397.6" r="6.75"/><circle cx="584.6" cy="398.7" r="6.81"/><circle cx="585.1" cy="399.8" r="6.88"/><circle cx="585.5" cy="400.9" r="6.94"/><circle cx="586.0" cy="402.0" r="7.00"/></g>
<g fill="#f9b3ef"><circle cx="586.0" cy="402.0" r="7.00"/><circle cx="586.8" cy="401.5" r="6.94"/><circle cx="587.5" cy="400.9" r="6.89"/><circle cx="588.2" cy="400.2" r="6.83"/><circle cx="588.9" cy="399.5" r="6.77"/><circle cx="589.5" cy="398.8" r="6.72"/><circle cx="590.2" cy="398.0" r="6.66"/><circle cx="590.7" cy="397.1" r="6.60"/><circle cx="591.3" cy="396.3" r="6.55"/><circle cx="591.8" cy="395.3" r="6.49"/><circle cx="592.3" cy="394.3" r="6.43"/><circle cx="592.8" cy="393.3" r="6.38"/><circle cx="593.2" cy="392.2" r="6.32"/><circle cx="593.6" cy="391.1" r="6.27"/><circle cx="594.0" cy="389.9" r="6.21"/><circle cx="594.3" cy="388.6" r="6.15"/><circle cx="594.7" cy="387.4" r="6.10"/><circle cx="594.9" cy="386.0" r="6.04"/><circle cx="595.2" cy="384.6" r="5.98"/><circle cx="595.4" cy="383.2" r="5.93"/><circle cx="595.6" cy="381.7" r="5.87"/><circle cx="595.8" cy="380.2" r="5.81"/><circle cx="595.9" cy="378.6" r="5.76"/><circle cx="596.0" cy="377.0" r="5.70"/></g>
<g fill="#f9b3ef"><circle cx="364.0" cy="168.0" r="4.50"/><circle cx="365.2" cy="168.1" r="4.51"/><circle cx="366.4" cy="168.1" r="4.51"/><circle cx="367.6" cy="168.2" r="4.52"/><circle cx="368.8" cy="168.2" r="4.53"/><circle cx="370.0" cy="168.3" r="4.53"/><circle cx="371.2" cy="168.3" r="4.54"/><circle cx="372.4" cy="168.4" r="4.55"/><circle cx="373.6" cy="168.4" r="4.55"/><circle cx="374.8" cy="168.5" r="4.56"/><circle cx="376.0" cy="168.5" r="4.57"/><circle cx="377.2" cy="168.6" r="4.57"/><circle cx="378.4" cy="168.6" r="4.58"/><circle cx="379.6" cy="168.7" r="4.59"/><circle cx="380.8" cy="168.7" r="4.59"/><circle cx="382.0" cy="168.8" r="4.60"/><circle cx="383.2" cy="168.8" r="4.61"/><circle cx="384.4" cy="168.9" r="4.61"/><circle cx="385.6" cy="168.9" r="4.62"/><circle cx="386.8" cy="169.0" r="4.63"/><circle cx="388.0" cy="169.1" r="4.63"/><circle cx="389.2" cy="169.1" r="4.64"/><circle cx="390.4" cy="169.2" r="4.65"/><circle cx="391.6" cy="169.2" r="4.65"/><circle cx="392.8" cy="169.3" r="4.66"/><circle cx="394.0" cy="169.3" r="4.67"/><circle cx="395.2" cy="169.4" r="4.67"/><circle cx="396.4" cy="169.5" r="4.68"/><circle cx="397.6" cy="169.5" r="4.69"/><circle cx="398.8" cy="169.6" r="4.69"/><circle cx="400.0" cy="169.6" r="4.70"/><circle cx="401.2" cy="169.7" r="4.90"/><circle cx="402.4" cy="169.7" r="5.10"/><circle cx="403.6" cy="169.8" r="5.30"/><circle cx="404.8" cy="169.9" r="5.50"/><circle cx="406.0" cy="169.9" r="5.70"/><circle cx="407.2" cy="170.0" r="5.90"/><circle cx="408.4" cy="170.0" r="5.74"/><circle cx="409.6" cy="170.1" r="5.59"/><circle cx="410.8" cy="170.2" r="5.43"/><circle cx="412.0" cy="170.2" r="5.28"/><circle cx="413.2" cy="170.3" r="5.12"/><circle cx="414.4" cy="170.3" r="4.97"/><circle cx="415.6" cy="170.4" r="4.81"/><circle cx="416.8" cy="170.5" r="4.66"/><circle cx="418.0" cy="170.5" r="4.50"/><circle cx="419.2" cy="170.6" r="4.42"/><circle cx="420.4" cy="170.7" r="4.34"/><circle cx="421.6" cy="170.7" r="4.26"/><circle cx="422.8" cy="170.8" r="4.18"/><circle cx="424.0" cy="170.8" r="4.10"/><circle cx="425.2" cy="170.9" r="4.02"/><circle cx="426.4" cy="171.0" r="3.94"/><circle cx="427.6" cy="171.0" r="3.86"/><circle cx="428.8" cy="171.1" r="3.78"/><circle cx="430.0" cy="171.2" r="3.70"/><circle cx="431.2" cy="171.2" r="3.62"/><circle cx="432.4" cy="171.3" r="3.54"/><circle cx="433.6" cy="171.4" r="3.46"/><circle cx="434.8" cy="171.4" r="3.38"/><circle cx="436.0" cy="171.5" r="3.30"/></g>
<g fill="#f9b3ef"><circle cx="443.0" cy="172.5" r="4.70"/><circle cx="444.2" cy="172.6" r="4.73"/><circle cx="445.4" cy="172.6" r="4.76"/><circle cx="446.6" cy="172.7" r="4.79"/><circle cx="447.8" cy="172.8" r="4.82"/><circle cx="449.0" cy="172.8" r="4.85"/><circle cx="450.2" cy="172.9" r="4.88"/><circle cx="451.4" cy="173.0" r="4.91"/><circle cx="452.7" cy="173.1" r="4.95"/><circle cx="453.9" cy="173.1" r="4.98"/><circle cx="455.1" cy="173.2" r="5.01"/><circle cx="456.3" cy="173.3" r="5.04"/><circle cx="457.5" cy="173.3" r="5.07"/><circle cx="458.7" cy="173.4" r="5.10"/><circle cx="459.9" cy="173.5" r="5.13"/><circle cx="461.1" cy="173.5" r="5.16"/><circle cx="462.3" cy="173.6" r="5.19"/><circle cx="463.5" cy="173.7" r="5.22"/><circle cx="464.7" cy="173.7" r="5.25"/><circle cx="465.9" cy="173.8" r="5.28"/><circle cx="467.1" cy="173.9" r="5.31"/><circle cx="468.3" cy="173.9" r="5.34"/><circle cx="469.6" cy="174.0" r="5.37"/><circle cx="470.8" cy="174.1" r="5.40"/><circle cx="472.0" cy="174.2" r="5.44"/><circle cx="473.2" cy="174.2" r="5.47"/><circle cx="474.4" cy="174.3" r="5.50"/><circle cx="475.6" cy="174.4" r="5.66"/><circle cx="476.8" cy="174.4" r="5.83"/><circle cx="478.0" cy="174.5" r="6.00"/><circle cx="479.2" cy="174.6" r="6.17"/><circle cx="480.4" cy="174.6" r="6.34"/><circle cx="481.6" cy="174.7" r="6.52"/><circle cx="482.8" cy="174.8" r="6.69"/><circle cx="484.0" cy="174.8" r="6.62"/><circle cx="485.2" cy="174.9" r="6.53"/><circle cx="486.4" cy="175.0" r="6.44"/><circle cx="487.7" cy="175.1" r="6.35"/><circle cx="488.9" cy="175.1" r="6.26"/><circle cx="490.1" cy="175.2" r="6.17"/><circle cx="491.3" cy="175.3" r="6.08"/><circle cx="492.5" cy="175.3" r="5.99"/><circle cx="493.7" cy="175.4" r="5.90"/><circle cx="494.9" cy="175.5" r="5.81"/><circle cx="496.1" cy="175.5" r="5.72"/><circle cx="497.3" cy="175.6" r="5.63"/><circle cx="498.5" cy="175.7" r="5.54"/><circle cx="499.7" cy="175.7" r="5.39"/><circle cx="500.9" cy="175.8" r="5.20"/><circle cx="502.1" cy="175.9" r="5.01"/><circle cx="503.3" cy="175.9" r="4.82"/><circle cx="504.6" cy="176.0" r="4.63"/><circle cx="505.8" cy="176.1" r="4.44"/><circle cx="507.0" cy="176.2" r="4.25"/><circle cx="508.2" cy="176.2" r="4.06"/><circle cx="509.4" cy="176.3" r="3.87"/><circle cx="510.6" cy="176.4" r="3.68"/><circle cx="511.8" cy="176.4" r="3.49"/><circle cx="513.0" cy="176.5" r="3.30"/></g></g>
<g filter="url(#soft)"><g fill="#874480"><circle cx="521.0" cy="207.0" r="0.70"/><circle cx="519.8" cy="206.9" r="0.84"/><circle cx="518.5" cy="206.9" r="0.97"/><circle cx="517.3" cy="206.8" r="1.11"/><circle cx="516.1" cy="206.8" r="1.24"/><circle cx="514.8" cy="206.8" r="1.38"/><circle cx="513.6" cy="206.7" r="1.51"/><circle cx="512.4" cy="206.7" r="1.65"/><circle cx="511.2" cy="206.7" r="1.78"/><circle cx="510.0" cy="206.7" r="1.92"/><circle cx="508.7" cy="206.7" r="2.05"/><circle cx="507.5" cy="206.7" r="2.19"/><circle cx="506.3" cy="206.7" r="2.32"/><circle cx="505.1" cy="206.7" r="2.46"/><circle cx="503.9" cy="206.7" r="2.59"/><circle cx="502.7" cy="206.7" r="2.73"/><circle cx="501.5" cy="206.7" r="2.86"/><circle cx="500.2" cy="206.8" r="3.00"/><circle cx="499.0" cy="206.8" r="3.06"/><circle cx="497.8" cy="206.8" r="3.12"/><circle cx="496.6" cy="206.9" r="3.18"/><circle cx="495.4" cy="206.9" r="3.24"/><circle cx="494.2" cy="207.0" r="3.29"/><circle cx="493.0" cy="207.0" r="3.35"/><circle cx="491.9" cy="207.1" r="3.41"/><circle cx="490.7" cy="207.2" r="3.47"/><circle cx="489.5" cy="207.2" r="3.53"/><circle cx="488.3" cy="207.3" r="3.59"/><circle cx="487.1" cy="207.4" r="3.65"/><circle cx="485.9" cy="207.5" r="3.71"/><circle cx="484.7" cy="207.6" r="3.76"/><circle cx="483.5" cy="207.7" r="3.82"/><circle cx="482.4" cy="207.8" r="3.88"/><circle cx="481.2" cy="207.9" r="3.94"/><circle cx="480.0" cy="208.0" r="4.00"/></g>
<g fill="#874480"><circle cx="480.0" cy="208.0" r="4.00"/><circle cx="479.9" cy="208.9" r="3.93"/><circle cx="479.8" cy="209.9" r="3.86"/><circle cx="479.8" cy="210.8" r="3.79"/><circle cx="480.0" cy="211.7" r="3.72"/><circle cx="480.1" cy="212.6" r="3.65"/><circle cx="480.4" cy="213.5" r="3.58"/><circle cx="480.8" cy="214.4" r="3.51"/><circle cx="481.2" cy="215.2" r="3.44"/><circle cx="481.7" cy="216.1" r="3.37"/><circle cx="482.3" cy="216.9" r="3.30"/><circle cx="483.0" cy="217.7" r="3.23"/><circle cx="483.8" cy="218.5" r="3.20"/><circle cx="484.6" cy="219.3" r="3.20"/><circle cx="485.5" cy="220.1" r="3.20"/><circle cx="486.5" cy="220.9" r="3.20"/><circle cx="487.6" cy="221.6" r="3.20"/><circle cx="488.8" cy="222.3" r="3.20"/><circle cx="490.0" cy="223.1" r="3.20"/><circle cx="491.4" cy="223.8" r="3.20"/><circle cx="492.8" cy="224.5" r="3.20"/><circle cx="494.3" cy="225.2" r="3.20"/><circle cx="495.8" cy="225.8" r="3.20"/><circle cx="497.5" cy="226.5" r="3.20"/></g>
<g fill="#874480"><circle cx="485.0" cy="206.0" r="3.00"/><circle cx="486.2" cy="205.2" r="2.87"/><circle cx="487.3" cy="204.5" r="2.73"/><circle cx="488.5" cy="203.8" r="2.60"/><circle cx="489.7" cy="203.0" r="2.47"/><circle cx="490.8" cy="202.2" r="2.33"/><circle cx="492.0" cy="201.5" r="2.20"/></g>
<g fill="#874480"><circle cx="521.0" cy="255.3" r="0.70"/><circle cx="519.8" cy="255.2" r="0.84"/><circle cx="518.5" cy="255.2" r="0.97"/><circle cx="517.3" cy="255.1" r="1.11"/><circle cx="516.1" cy="255.1" r="1.24"/><circle cx="514.8" cy="255.1" r="1.38"/><circle cx="513.6" cy="255.0" r="1.51"/><circle cx="512.4" cy="255.0" r="1.65"/><circle cx="511.2" cy="255.0" r="1.78"/><circle cx="510.0" cy="255.0" r="1.92"/><circle cx="508.7" cy="255.0" r="2.05"/><circle cx="507.5" cy="255.0" r="2.19"/><circle cx="506.3" cy="255.0" r="2.32"/><circle cx="505.1" cy="255.0" r="2.46"/><circle cx="503.9" cy="255.0" r="2.59"/><circle cx="502.7" cy="255.0" r="2.73"/><circle cx="501.5" cy="255.0" r="2.86"/><circle cx="500.2" cy="255.1" r="3.00"/><circle cx="499.0" cy="255.1" r="3.06"/><circle cx="497.8" cy="255.1" r="3.12"/><circle cx="496.6" cy="255.2" r="3.18"/><circle cx="495.4" cy="255.2" r="3.24"/><circle cx="494.2" cy="255.3" r="3.29"/><circle cx="493.0" cy="255.3" r="3.35"/><circle cx="491.9" cy="255.4" r="3.41"/><circle cx="490.7" cy="255.5" r="3.47"/><circle cx="489.5" cy="255.5" r="3.53"/><circle cx="488.3" cy="255.6" r="3.59"/><circle cx="487.1" cy="255.7" r="3.65"/><circle cx="485.9" cy="255.8" r="3.71"/><circle cx="484.7" cy="255.9" r="3.76"/><circle cx="483.5" cy="256.0" r="3.82"/><circle cx="482.4" cy="256.1" r="3.88"/><circle cx="481.2" cy="256.2" r="3.94"/><circle cx="480.0" cy="256.3" r="4.00"/></g>
<g fill="#874480"><circle cx="480.0" cy="256.3" r="4.00"/><circle cx="479.9" cy="257.2" r="3.93"/><circle cx="479.8" cy="258.2" r="3.86"/><circle cx="479.8" cy="259.1" r="3.79"/><circle cx="480.0" cy="260.0" r="3.72"/><circle cx="480.1" cy="260.9" r="3.65"/><circle cx="480.4" cy="261.8" r="3.58"/><circle cx="480.8" cy="262.7" r="3.51"/><circle cx="481.2" cy="263.5" r="3.44"/><circle cx="481.7" cy="264.4" r="3.37"/><circle cx="482.3" cy="265.2" r="3.30"/><circle cx="483.0" cy="266.0" r="3.23"/><circle cx="483.8" cy="266.8" r="3.20"/><circle cx="484.6" cy="267.6" r="3.20"/><circle cx="485.5" cy="268.4" r="3.20"/><circle cx="486.5" cy="269.2" r="3.20"/><circle cx="487.6" cy="269.9" r="3.20"/><circle cx="488.8" cy="270.6" r="3.20"/><circle cx="490.0" cy="271.4" r="3.20"/><circle cx="491.4" cy="272.1" r="3.20"/><circle cx="492.8" cy="272.8" r="3.20"/><circle cx="494.3" cy="273.5" r="3.20"/><circle cx="495.8" cy="274.1" r="3.20"/><circle cx="497.5" cy="274.8" r="3.20"/></g>
<g fill="#874480"><circle cx="485.0" cy="254.3" r="3.00"/><circle cx="486.2" cy="253.6" r="2.87"/><circle cx="487.3" cy="252.8" r="2.73"/><circle cx="488.5" cy="252.1" r="2.60"/><circle cx="489.7" cy="251.3" r="2.47"/><circle cx="490.8" cy="250.6" r="2.33"/><circle cx="492.0" cy="249.8" r="2.20"/></g>
<g fill="#874480"><circle cx="521.0" cy="295.7" r="0.70"/><circle cx="519.8" cy="295.6" r="0.84"/><circle cx="518.5" cy="295.6" r="0.97"/><circle cx="517.3" cy="295.5" r="1.11"/><circle cx="516.1" cy="295.5" r="1.24"/><circle cx="514.8" cy="295.5" r="1.38"/><circle cx="513.6" cy="295.4" r="1.51"/><circle cx="512.4" cy="295.4" r="1.65"/><circle cx="511.2" cy="295.4" r="1.78"/><circle cx="510.0" cy="295.4" r="1.92"/><circle cx="508.7" cy="295.4" r="2.05"/><circle cx="507.5" cy="295.4" r="2.19"/><circle cx="506.3" cy="295.4" r="2.32"/><circle cx="505.1" cy="295.4" r="2.46"/><circle cx="503.9" cy="295.4" r="2.59"/><circle cx="502.7" cy="295.4" r="2.73"/><circle cx="501.5" cy="295.4" r="2.86"/><circle cx="500.2" cy="295.4" r="3.00"/><circle cx="499.0" cy="295.5" r="3.06"/><circle cx="497.8" cy="295.5" r="3.12"/><circle cx="496.6" cy="295.6" r="3.18"/><circle cx="495.4" cy="295.6" r="3.24"/><circle cx="494.2" cy="295.7" r="3.29"/><circle cx="493.0" cy="295.7" r="3.35"/><circle cx="491.9" cy="295.8" r="3.41"/><circle cx="490.7" cy="295.9" r="3.47"/><circle cx="489.5" cy="295.9" r="3.53"/><circle cx="488.3" cy="296.0" r="3.59"/><circle cx="487.1" cy="296.1" r="3.65"/><circle cx="485.9" cy="296.2" r="3.71"/><circle cx="484.7" cy="296.3" r="3.76"/><circle cx="483.5" cy="296.4" r="3.82"/><circle cx="482.4" cy="296.5" r="3.88"/><circle cx="481.2" cy="296.6" r="3.94"/><circle cx="480.0" cy="296.7" r="4.00"/></g>
<g fill="#874480"><circle cx="480.0" cy="296.7" r="4.00"/><circle cx="479.9" cy="297.6" r="3.93"/><circle cx="479.8" cy="298.6" r="3.86"/><circle cx="479.8" cy="299.5" r="3.79"/><circle cx="480.0" cy="300.4" r="3.72"/><circle cx="480.1" cy="301.3" r="3.65"/><circle cx="480.4" cy="302.2" r="3.58"/><circle cx="480.8" cy="303.1" r="3.51"/><circle cx="481.2" cy="303.9" r="3.44"/><circle cx="481.7" cy="304.8" r="3.37"/><circle cx="482.3" cy="305.6" r="3.30"/><circle cx="483.0" cy="306.4" r="3.23"/><circle cx="483.8" cy="307.2" r="3.20"/><circle cx="484.6" cy="308.0" r="3.20"/><circle cx="485.5" cy="308.8" r="3.20"/><circle cx="486.5" cy="309.6" r="3.20"/><circle cx="487.6" cy="310.3" r="3.20"/><circle cx="488.8" cy="311.0" r="3.20"/><circle cx="490.0" cy="311.8" r="3.20"/><circle cx="491.4" cy="312.5" r="3.20"/><circle cx="492.8" cy="313.2" r="3.20"/><circle cx="494.3" cy="313.9" r="3.20"/><circle cx="495.8" cy="314.5" r="3.20"/><circle cx="497.5" cy="315.2" r="3.20"/></g>
<g fill="#874480"><circle cx="485.0" cy="294.7" r="3.00"/><circle cx="486.2" cy="293.9" r="2.87"/><circle cx="487.3" cy="293.2" r="2.73"/><circle cx="488.5" cy="292.4" r="2.60"/><circle cx="489.7" cy="291.7" r="2.47"/><circle cx="490.8" cy="290.9" r="2.33"/><circle cx="492.0" cy="290.2" r="2.20"/></g>
<g fill="#874480"><circle cx="521.0" cy="333.7" r="0.70"/><circle cx="519.8" cy="333.6" r="0.84"/><circle cx="518.5" cy="333.6" r="0.97"/><circle cx="517.3" cy="333.5" r="1.11"/><circle cx="516.1" cy="333.5" r="1.24"/><circle cx="514.8" cy="333.5" r="1.38"/><circle cx="513.6" cy="333.4" r="1.51"/><circle cx="512.4" cy="333.4" r="1.65"/><circle cx="511.2" cy="333.4" r="1.78"/><circle cx="510.0" cy="333.4" r="1.92"/><circle cx="508.7" cy="333.4" r="2.05"/><circle cx="507.5" cy="333.4" r="2.19"/><circle cx="506.3" cy="333.4" r="2.32"/><circle cx="505.1" cy="333.4" r="2.46"/><circle cx="503.9" cy="333.4" r="2.59"/><circle cx="502.7" cy="333.4" r="2.73"/><circle cx="501.5" cy="333.4" r="2.86"/><circle cx="500.2" cy="333.4" r="3.00"/><circle cx="499.0" cy="333.5" r="3.06"/><circle cx="497.8" cy="333.5" r="3.12"/><circle cx="496.6" cy="333.6" r="3.18"/><circle cx="495.4" cy="333.6" r="3.24"/><circle cx="494.2" cy="333.7" r="3.29"/><circle cx="493.0" cy="333.7" r="3.35"/><circle cx="491.9" cy="333.8" r="3.41"/><circle cx="490.7" cy="333.9" r="3.47"/><circle cx="489.5" cy="333.9" r="3.53"/><circle cx="488.3" cy="334.0" r="3.59"/><circle cx="487.1" cy="334.1" r="3.65"/><circle cx="485.9" cy="334.2" r="3.71"/><circle cx="484.7" cy="334.3" r="3.76"/><circle cx="483.5" cy="334.4" r="3.82"/><circle cx="482.4" cy="334.5" r="3.88"/><circle cx="481.2" cy="334.6" r="3.94"/><circle cx="480.0" cy="334.7" r="4.00"/></g>
<g fill="#874480"><circle cx="480.0" cy="334.7" r="4.00"/><circle cx="479.9" cy="335.6" r="3.93"/><circle cx="479.8" cy="336.6" r="3.86"/><circle cx="479.8" cy="337.5" r="3.79"/><circle cx="480.0" cy="338.4" r="3.72"/><circle cx="480.1" cy="339.3" r="3.65"/><circle cx="480.4" cy="340.2" r="3.58"/><circle cx="480.8" cy="341.1" r="3.51"/><circle cx="481.2" cy="341.9" r="3.44"/><circle cx="481.7" cy="342.8" r="3.37"/><circle cx="482.3" cy="343.6" r="3.30"/><circle cx="483.0" cy="344.4" r="3.23"/><circle cx="483.8" cy="345.2" r="3.20"/><circle cx="484.6" cy="346.0" r="3.20"/><circle cx="485.5" cy="346.8" r="3.20"/><circle cx="486.5" cy="347.6" r="3.20"/><circle cx="487.6" cy="348.3" r="3.20"/><circle cx="488.8" cy="349.0" r="3.20"/><circle cx="490.0" cy="349.8" r="3.20"/><circle cx="491.4" cy="350.5" r="3.20"/><circle cx="492.8" cy="351.2" r="3.20"/><circle cx="494.3" cy="351.9" r="3.20"/><circle cx="495.8" cy="352.5" r="3.20"/><circle cx="497.5" cy="353.2" r="3.20"/></g>
<g fill="#874480"><circle cx="485.0" cy="332.7" r="3.00"/><circle cx="486.2" cy="331.9" r="2.87"/><circle cx="487.3" cy="331.2" r="2.73"/><circle cx="488.5" cy="330.4" r="2.60"/><circle cx="489.7" cy="329.7" r="2.47"/><circle cx="490.8" cy="328.9" r="2.33"/><circle cx="492.0" cy="328.2" r="2.20"/></g>
<g fill="#874480"><circle cx="568.5" cy="215.0" r="0.60"/><circle cx="569.6" cy="214.5" r="0.73"/><circle cx="570.7" cy="214.1" r="0.86"/><circle cx="571.8" cy="213.6" r="0.99"/><circle cx="572.9" cy="213.1" r="1.12"/><circle cx="574.0" cy="212.6" r="1.25"/><circle cx="575.1" cy="212.1" r="1.38"/><circle cx="576.2" cy="211.6" r="1.51"/><circle cx="577.3" cy="211.1" r="1.64"/><circle cx="578.4" cy="210.6" r="1.76"/><circle cx="579.5" cy="210.1" r="1.89"/><circle cx="580.6" cy="209.6" r="2.02"/><circle cx="581.7" cy="209.1" r="2.15"/><circle cx="582.8" cy="208.6" r="2.28"/><circle cx="583.9" cy="208.1" r="2.41"/><circle cx="585.0" cy="207.6" r="2.54"/><circle cx="586.1" cy="207.0" r="2.67"/><circle cx="587.2" cy="206.5" r="2.80"/><circle cx="588.4" cy="206.0" r="2.84"/><circle cx="589.5" cy="205.4" r="2.88"/><circle cx="590.6" cy="204.9" r="2.92"/><circle cx="591.7" cy="204.4" r="2.96"/><circle cx="592.8" cy="203.8" r="3.01"/><circle cx="593.9" cy="203.3" r="3.05"/><circle cx="595.0" cy="202.7" r="3.09"/><circle cx="596.1" cy="202.2" r="3.13"/><circle cx="597.2" cy="201.6" r="3.17"/><circle cx="598.3" cy="201.0" r="3.21"/><circle cx="599.4" cy="200.5" r="3.25"/><circle cx="600.5" cy="199.9" r="3.29"/><circle cx="601.6" cy="199.3" r="3.34"/><circle cx="602.7" cy="198.7" r="3.38"/><circle cx="603.8" cy="198.2" r="3.42"/><circle cx="604.9" cy="197.6" r="3.46"/><circle cx="606.0" cy="197.0" r="3.50"/></g>
<g fill="#874480"><circle cx="606.0" cy="197.0" r="3.40"/><circle cx="606.0" cy="195.8" r="3.35"/><circle cx="605.8" cy="194.6" r="3.29"/><circle cx="605.7" cy="193.5" r="3.24"/><circle cx="605.4" cy="192.4" r="3.18"/><circle cx="605.0" cy="191.4" r="3.13"/><circle cx="604.6" cy="190.4" r="3.07"/><circle cx="604.1" cy="189.5" r="3.02"/><circle cx="603.5" cy="188.7" r="2.96"/><circle cx="602.9" cy="187.9" r="2.91"/><circle cx="602.2" cy="187.1" r="2.85"/><circle cx="601.4" cy="186.4" r="2.80"/><circle cx="600.5" cy="185.8" r="2.84"/><circle cx="599.5" cy="185.2" r="2.87"/><circle cx="598.5" cy="184.6" r="2.91"/><circle cx="597.4" cy="184.1" r="2.95"/><circle cx="596.2" cy="183.7" r="2.98"/><circle cx="594.9" cy="183.3" r="3.02"/><circle cx="593.5" cy="183.0" r="3.05"/><circle cx="592.1" cy="182.7" r="3.09"/><circle cx="590.6" cy="182.5" r="3.13"/><circle cx="589.1" cy="182.3" r="3.16"/><circle cx="587.4" cy="182.2" r="3.20"/></g>
<g fill="#874480"><circle cx="568.0" cy="270.0" r="0.60"/><circle cx="569.1" cy="269.6" r="0.73"/><circle cx="570.2" cy="269.1" r="0.86"/><circle cx="571.4" cy="268.7" r="0.99"/><circle cx="572.5" cy="268.3" r="1.12"/><circle cx="573.6" cy="267.8" r="1.25"/><circle cx="574.7" cy="267.4" r="1.38"/><circle cx="575.8" cy="266.9" r="1.51"/><circle cx="576.9" cy="266.5" r="1.64"/><circle cx="578.1" cy="266.0" r="1.76"/><circle cx="579.2" cy="265.6" r="1.89"/><circle cx="580.3" cy="265.1" r="2.02"/><circle cx="581.4" cy="264.6" r="2.15"/><circle cx="582.5" cy="264.2" r="2.28"/><circle cx="583.6" cy="263.7" r="2.41"/><circle cx="584.8" cy="263.2" r="2.54"/><circle cx="585.9" cy="262.7" r="2.67"/><circle cx="587.0" cy="262.2" r="2.80"/><circle cx="588.1" cy="261.8" r="2.84"/><circle cx="589.2" cy="261.3" r="2.88"/><circle cx="590.4" cy="260.8" r="2.92"/><circle cx="591.5" cy="260.3" r="2.96"/><circle cx="592.6" cy="259.8" r="3.01"/><circle cx="593.7" cy="259.3" r="3.05"/><circle cx="594.8" cy="258.8" r="3.09"/><circle cx="595.9" cy="258.3" r="3.13"/><circle cx="597.1" cy="257.7" r="3.17"/><circle cx="598.2" cy="257.2" r="3.21"/><circle cx="599.3" cy="256.7" r="3.25"/><circle cx="600.4" cy="256.2" r="3.29"/><circle cx="601.5" cy="255.6" r="3.34"/><circle cx="602.6" cy="255.1" r="3.38"/><circle cx="603.8" cy="254.6" r="3.42"/><circle cx="604.9" cy="254.0" r="3.46"/><circle cx="606.0" cy="253.5" r="3.50"/></g>
<g fill="#874480"><circle cx="606.0" cy="253.5" r="3.40"/><circle cx="606.0" cy="252.2" r="3.35"/><circle cx="605.9" cy="251.0" r="3.30"/><circle cx="605.7" cy="249.8" r="3.24"/><circle cx="605.4" cy="248.7" r="3.19"/><circle cx="605.1" cy="247.6" r="3.14"/><circle cx="604.7" cy="246.6" r="3.09"/><circle cx="604.3" cy="245.7" r="3.03"/><circle cx="603.7" cy="244.8" r="2.98"/><circle cx="603.1" cy="243.9" r="2.93"/><circle cx="602.5" cy="243.1" r="2.88"/><circle cx="601.7" cy="242.4" r="2.83"/><circle cx="600.9" cy="241.7" r="2.82"/><circle cx="600.0" cy="241.0" r="2.85"/><circle cx="599.1" cy="240.4" r="2.89"/><circle cx="598.0" cy="239.9" r="2.92"/><circle cx="597.0" cy="239.4" r="2.96"/><circle cx="595.8" cy="239.0" r="2.99"/><circle cx="594.5" cy="238.6" r="3.03"/><circle cx="593.2" cy="238.3" r="3.06"/><circle cx="591.9" cy="238.0" r="3.10"/><circle cx="590.4" cy="237.8" r="3.13"/><circle cx="588.9" cy="237.6" r="3.17"/><circle cx="587.3" cy="237.5" r="3.20"/></g>
<g fill="#874480"><circle cx="567.8" cy="307.7" r="0.60"/><circle cx="568.9" cy="307.3" r="0.73"/><circle cx="570.0" cy="306.9" r="0.85"/><circle cx="571.2" cy="306.4" r="0.98"/><circle cx="572.3" cy="306.0" r="1.10"/><circle cx="573.4" cy="305.6" r="1.23"/><circle cx="574.5" cy="305.2" r="1.35"/><circle cx="575.6" cy="304.7" r="1.48"/><circle cx="576.8" cy="304.3" r="1.61"/><circle cx="577.9" cy="303.8" r="1.73"/><circle cx="579.0" cy="303.4" r="1.86"/><circle cx="580.1" cy="302.9" r="1.98"/><circle cx="581.2" cy="302.5" r="2.11"/><circle cx="582.4" cy="302.0" r="2.23"/><circle cx="583.5" cy="301.6" r="2.36"/><circle cx="584.6" cy="301.1" r="2.49"/><circle cx="585.7" cy="300.7" r="2.61"/><circle cx="586.8" cy="300.2" r="2.74"/><circle cx="588.0" cy="299.7" r="2.82"/><circle cx="589.1" cy="299.2" r="2.86"/><circle cx="590.2" cy="298.8" r="2.90"/><circle cx="591.3" cy="298.3" r="2.94"/><circle cx="592.4" cy="297.8" r="2.98"/><circle cx="593.6" cy="297.3" r="3.02"/><circle cx="594.7" cy="296.8" r="3.06"/><circle cx="595.8" cy="296.3" r="3.10"/><circle cx="596.9" cy="295.8" r="3.14"/><circle cx="598.0" cy="295.3" r="3.18"/><circle cx="599.2" cy="294.8" r="3.22"/><circle cx="600.3" cy="294.3" r="3.26"/><circle cx="601.4" cy="293.8" r="3.30"/><circle cx="602.5" cy="293.3" r="3.34"/><circle cx="603.6" cy="292.8" r="3.38"/><circle cx="604.8" cy="292.3" r="3.42"/><circle cx="605.9" cy="291.7" r="3.46"/><circle cx="607.0" cy="291.2" r="3.50"/></g>
<g fill="#874480"><circle cx="607.0" cy="291.2" r="3.40"/><circle cx="606.9" cy="290.1" r="3.34"/><circle cx="606.6" cy="289.1" r="3.29"/><circle cx="606.4" cy="288.1" r="3.23"/><circle cx="606.0" cy="287.1" r="3.17"/><circle cx="605.5" cy="286.2" r="3.11"/><circle cx="605.0" cy="285.4" r="3.06"/><circle cx="604.4" cy="284.6" r="3.00"/><circle cx="603.7" cy="283.8" r="2.94"/><circle cx="602.9" cy="283.1" r="2.89"/><circle cx="602.0" cy="282.5" r="2.83"/><circle cx="601.1" cy="281.9" r="2.82"/><circle cx="600.1" cy="281.3" r="2.86"/><circle cx="599.0" cy="280.8" r="2.90"/><circle cx="597.8" cy="280.4" r="2.93"/><circle cx="596.5" cy="279.9" r="2.97"/><circle cx="595.2" cy="279.6" r="3.01"/><circle cx="593.8" cy="279.3" r="3.05"/><circle cx="592.3" cy="279.0" r="3.09"/><circle cx="590.7" cy="278.8" r="3.12"/><circle cx="589.0" cy="278.6" r="3.16"/><circle cx="587.3" cy="278.5" r="3.20"/></g>
<g fill="#874480"><circle cx="567.8" cy="349.6" r="0.60"/><circle cx="568.9" cy="349.2" r="0.73"/><circle cx="570.0" cy="348.8" r="0.85"/><circle cx="571.2" cy="348.4" r="0.98"/><circle cx="572.3" cy="348.0" r="1.10"/><circle cx="573.4" cy="347.6" r="1.23"/><circle cx="574.5" cy="347.2" r="1.35"/><circle cx="575.6" cy="346.8" r="1.48"/><circle cx="576.8" cy="346.4" r="1.61"/><circle cx="577.9" cy="346.0" r="1.73"/><circle cx="579.0" cy="345.6" r="1.86"/><circle cx="580.1" cy="345.1" r="1.98"/><circle cx="581.2" cy="344.7" r="2.11"/><circle cx="582.4" cy="344.3" r="2.23"/><circle cx="583.5" cy="343.8" r="2.36"/><circle cx="584.6" cy="343.4" r="2.49"/><circle cx="585.7" cy="343.0" r="2.61"/><circle cx="586.8" cy="342.5" r="2.74"/><circle cx="588.0" cy="342.1" r="2.82"/><circle cx="589.1" cy="341.6" r="2.86"/><circle cx="590.2" cy="341.2" r="2.90"/><circle cx="591.3" cy="340.7" r="2.94"/><circle cx="592.4" cy="340.3" r="2.98"/><circle cx="593.6" cy="339.8" r="3.02"/><circle cx="594.7" cy="339.3" r="3.06"/><circle cx="595.8" cy="338.9" r="3.10"/><circle cx="596.9" cy="338.4" r="3.14"/><circle cx="598.0" cy="337.9" r="3.18"/><circle cx="599.2" cy="337.4" r="3.22"/><circle cx="600.3" cy="337.0" r="3.26"/><circle cx="601.4" cy="336.5" r="3.30"/><circle cx="602.5" cy="336.0" r="3.34"/><circle cx="603.6" cy="335.5" r="3.38"/><circle cx="604.8" cy="335.0" r="3.42"/><circle cx="605.9" cy="334.5" r="3.46"/><circle cx="607.0" cy="334.0" r="3.50"/></g>
<g fill="#874480"><circle cx="607.0" cy="334.0" r="3.40"/><circle cx="606.9" cy="332.9" r="3.34"/><circle cx="606.6" cy="331.9" r="3.29"/><circle cx="606.4" cy="330.9" r="3.23"/><circle cx="606.0" cy="330.0" r="3.17"/><circle cx="605.5" cy="329.1" r="3.11"/><circle cx="605.0" cy="328.2" r="3.06"/><circle cx="604.4" cy="327.4" r="3.00"/><circle cx="603.7" cy="326.7" r="2.94"/><circle cx="602.9" cy="326.0" r="2.89"/><circle cx="602.0" cy="325.4" r="2.83"/><circle cx="601.1" cy="324.8" r="2.82"/><circle cx="600.1" cy="324.2" r="2.86"/><circle cx="599.0" cy="323.7" r="2.90"/><circle cx="597.8" cy="323.2" r="2.93"/><circle cx="596.5" cy="322.8" r="2.97"/><circle cx="595.2" cy="322.5" r="3.01"/><circle cx="593.8" cy="322.2" r="3.05"/><circle cx="592.3" cy="321.9" r="3.09"/><circle cx="590.7" cy="321.7" r="3.12"/><circle cx="589.0" cy="321.5" r="3.16"/><circle cx="587.3" cy="321.4" r="3.20"/></g>
<g fill="#874480"><circle cx="519.2" cy="358.5" r="0.60"/><circle cx="518.6" cy="359.6" r="0.72"/><circle cx="518.1" cy="360.7" r="0.85"/><circle cx="517.5" cy="361.8" r="0.97"/><circle cx="516.9" cy="362.9" r="1.10"/><circle cx="516.4" cy="364.0" r="1.22"/><circle cx="515.8" cy="365.1" r="1.34"/><circle cx="515.2" cy="366.2" r="1.47"/><circle cx="514.7" cy="367.3" r="1.59"/><circle cx="514.1" cy="368.4" r="1.72"/><circle cx="513.6" cy="369.5" r="1.84"/><circle cx="513.0" cy="370.6" r="1.96"/><circle cx="512.5" cy="371.7" r="2.09"/><circle cx="511.9" cy="372.8" r="2.21"/><circle cx="511.4" cy="373.9" r="2.34"/><circle cx="510.8" cy="375.0" r="2.46"/><circle cx="510.3" cy="376.1" r="2.58"/><circle cx="509.8" cy="377.1" r="2.71"/><circle cx="509.2" cy="378.2" r="2.83"/><circle cx="508.7" cy="379.3" r="2.95"/><circle cx="508.2" cy="380.4" r="3.08"/><circle cx="507.6" cy="381.5" r="3.20"/><circle cx="507.1" cy="382.6" r="3.33"/><circle cx="506.6" cy="383.7" r="3.45"/><circle cx="506.1" cy="384.8" r="3.54"/><circle cx="505.5" cy="385.9" r="3.60"/><circle cx="505.0" cy="386.9" r="3.67"/><circle cx="504.5" cy="388.0" r="3.73"/><circle cx="504.0" cy="389.1" r="3.79"/><circle cx="503.5" cy="390.2" r="3.86"/><circle cx="503.0" cy="391.3" r="3.92"/><circle cx="502.5" cy="392.4" r="3.99"/><circle cx="502.0" cy="393.4" r="4.05"/><circle cx="501.5" cy="394.5" r="4.12"/><circle cx="501.0" cy="395.6" r="4.18"/><circle cx="500.5" cy="396.7" r="4.24"/><circle cx="500.0" cy="397.8" r="4.31"/><circle cx="499.5" cy="398.8" r="4.37"/><circle cx="499.0" cy="399.9" r="4.44"/><circle cx="498.5" cy="401.0" r="4.50"/></g>
<g fill="#874480"><circle cx="498.5" cy="401.0" r="4.50"/><circle cx="497.8" cy="400.5" r="4.44"/><circle cx="497.2" cy="400.0" r="4.38"/><circle cx="496.6" cy="399.4" r="4.32"/><circle cx="496.0" cy="398.7" r="4.26"/><circle cx="495.4" cy="398.0" r="4.20"/><circle cx="494.9" cy="397.2" r="4.15"/><circle cx="494.4" cy="396.4" r="4.09"/><circle cx="493.9" cy="395.4" r="4.03"/><circle cx="493.5" cy="394.5" r="3.97"/><circle cx="493.0" cy="393.5" r="3.91"/><circle cx="492.6" cy="392.4" r="3.85"/><circle cx="492.3" cy="391.2" r="3.79"/><circle cx="491.9" cy="390.0" r="3.73"/><circle cx="491.6" cy="388.8" r="3.67"/><circle cx="491.3" cy="387.4" r="3.61"/><circle cx="491.0" cy="386.1" r="3.55"/><circle cx="490.8" cy="384.6" r="3.50"/><circle cx="490.6" cy="383.1" r="3.44"/><circle cx="490.4" cy="381.5" r="3.38"/><circle cx="490.2" cy="379.9" r="3.32"/><circle cx="490.1" cy="378.2" r="3.26"/><circle cx="490.0" cy="376.5" r="3.20"/></g>
<g fill="#874480"><circle cx="567.8" cy="357.4" r="0.60"/><circle cx="568.3" cy="358.5" r="0.72"/><circle cx="568.7" cy="359.7" r="0.84"/><circle cx="569.2" cy="360.8" r="0.96"/><circle cx="569.6" cy="361.9" r="1.08"/><circle cx="570.1" cy="363.0" r="1.20"/><circle cx="570.6" cy="364.2" r="1.32"/><circle cx="571.0" cy="365.3" r="1.45"/><circle cx="571.5" cy="366.4" r="1.57"/><circle cx="571.9" cy="367.5" r="1.69"/><circle cx="572.4" cy="368.7" r="1.81"/><circle cx="572.8" cy="369.8" r="1.93"/><circle cx="573.3" cy="370.9" r="2.05"/><circle cx="573.8" cy="372.0" r="2.17"/><circle cx="574.2" cy="373.1" r="2.29"/><circle cx="574.7" cy="374.3" r="2.41"/><circle cx="575.1" cy="375.4" r="2.53"/><circle cx="575.6" cy="376.5" r="2.65"/><circle cx="576.0" cy="377.6" r="2.77"/><circle cx="576.5" cy="378.7" r="2.90"/><circle cx="577.0" cy="379.9" r="3.02"/><circle cx="577.4" cy="381.0" r="3.14"/><circle cx="577.9" cy="382.1" r="3.26"/><circle cx="578.3" cy="383.2" r="3.38"/><circle cx="578.8" cy="384.3" r="3.50"/><circle cx="579.2" cy="385.4" r="3.56"/><circle cx="579.7" cy="386.5" r="3.62"/><circle cx="580.1" cy="387.6" r="3.69"/><circle cx="580.6" cy="388.7" r="3.75"/><circle cx="581.0" cy="389.9" r="3.81"/><circle cx="581.5" cy="391.0" r="3.88"/><circle cx="581.9" cy="392.1" r="3.94"/><circle cx="582.4" cy="393.2" r="4.00"/><circle cx="582.8" cy="394.3" r="4.06"/><circle cx="583.3" cy="395.4" r="4.12"/><circle cx="583.7" cy="396.5" r="4.19"/><circle cx="584.2" cy="397.6" r="4.25"/><circle cx="584.6" cy="398.7" r="4.31"/><circle cx="585.1" cy="399.8" r="4.38"/><circle cx="585.5" cy="400.9" r="4.44"/><circle cx="586.0" cy="402.0" r="4.50"/></g>
<g fill="#874480"><circle cx="586.0" cy="402.0" r="4.50"/><circle cx="586.8" cy="401.5" r="4.44"/><circle cx="587.5" cy="400.9" r="4.39"/><circle cx="588.2" cy="400.2" r="4.33"/><circle cx="588.9" cy="399.5" r="4.27"/><circle cx="589.5" cy="398.8" r="4.22"/><circle cx="590.2" cy="398.0" r="4.16"/><circle cx="590.7" cy="397.1" r="4.10"/><circle cx="591.3" cy="396.3" r="4.05"/><circle cx="591.8" cy="395.3" r="3.99"/><circle cx="592.3" cy="394.3" r="3.93"/><circle cx="592.8" cy="393.3" r="3.88"/><circle cx="593.2" cy="392.2" r="3.82"/><circle cx="593.6" cy="391.1" r="3.77"/><circle cx="594.0" cy="389.9" r="3.71"/><circle cx="594.3" cy="388.6" r="3.65"/><circle cx="594.7" cy="387.4" r="3.60"/><circle cx="594.9" cy="386.0" r="3.54"/><circle cx="595.2" cy="384.6" r="3.48"/><circle cx="595.4" cy="383.2" r="3.43"/><circle cx="595.6" cy="381.7" r="3.37"/><circle cx="595.8" cy="380.2" r="3.31"/><circle cx="595.9" cy="378.6" r="3.26"/><circle cx="596.0" cy="377.0" r="3.20"/></g>
<g fill="#874480"><circle cx="364.0" cy="168.0" r="2.00"/><circle cx="365.2" cy="168.1" r="2.01"/><circle cx="366.4" cy="168.1" r="2.01"/><circle cx="367.6" cy="168.2" r="2.02"/><circle cx="368.8" cy="168.2" r="2.03"/><circle cx="370.0" cy="168.3" r="2.03"/><circle cx="371.2" cy="168.3" r="2.04"/><circle cx="372.4" cy="168.4" r="2.05"/><circle cx="373.6" cy="168.4" r="2.05"/><circle cx="374.8" cy="168.5" r="2.06"/><circle cx="376.0" cy="168.5" r="2.07"/><circle cx="377.2" cy="168.6" r="2.07"/><circle cx="378.4" cy="168.6" r="2.08"/><circle cx="379.6" cy="168.7" r="2.09"/><circle cx="380.8" cy="168.7" r="2.09"/><circle cx="382.0" cy="168.8" r="2.10"/><circle cx="383.2" cy="168.8" r="2.11"/><circle cx="384.4" cy="168.9" r="2.11"/><circle cx="385.6" cy="168.9" r="2.12"/><circle cx="386.8" cy="169.0" r="2.13"/><circle cx="388.0" cy="169.1" r="2.13"/><circle cx="389.2" cy="169.1" r="2.14"/><circle cx="390.4" cy="169.2" r="2.15"/><circle cx="391.6" cy="169.2" r="2.15"/><circle cx="392.8" cy="169.3" r="2.16"/><circle cx="394.0" cy="169.3" r="2.17"/><circle cx="395.2" cy="169.4" r="2.17"/><circle cx="396.4" cy="169.5" r="2.18"/><circle cx="397.6" cy="169.5" r="2.19"/><circle cx="398.8" cy="169.6" r="2.19"/><circle cx="400.0" cy="169.6" r="2.20"/><circle cx="401.2" cy="169.7" r="2.40"/><circle cx="402.4" cy="169.7" r="2.60"/><circle cx="403.6" cy="169.8" r="2.80"/><circle cx="404.8" cy="169.9" r="3.00"/><circle cx="406.0" cy="169.9" r="3.20"/><circle cx="407.2" cy="170.0" r="3.40"/><circle cx="408.4" cy="170.0" r="3.24"/><circle cx="409.6" cy="170.1" r="3.09"/><circle cx="410.8" cy="170.2" r="2.93"/><circle cx="412.0" cy="170.2" r="2.78"/><circle cx="413.2" cy="170.3" r="2.62"/><circle cx="414.4" cy="170.3" r="2.47"/><circle cx="415.6" cy="170.4" r="2.31"/><circle cx="416.8" cy="170.5" r="2.16"/><circle cx="418.0" cy="170.5" r="2.00"/><circle cx="419.2" cy="170.6" r="1.92"/><circle cx="420.4" cy="170.7" r="1.84"/><circle cx="421.6" cy="170.7" r="1.76"/><circle cx="422.8" cy="170.8" r="1.68"/><circle cx="424.0" cy="170.8" r="1.60"/><circle cx="425.2" cy="170.9" r="1.52"/><circle cx="426.4" cy="171.0" r="1.44"/><circle cx="427.6" cy="171.0" r="1.36"/><circle cx="428.8" cy="171.1" r="1.28"/><circle cx="430.0" cy="171.2" r="1.20"/><circle cx="431.2" cy="171.2" r="1.12"/><circle cx="432.4" cy="171.3" r="1.04"/><circle cx="433.6" cy="171.4" r="0.96"/><circle cx="434.8" cy="171.4" r="0.88"/><circle cx="436.0" cy="171.5" r="0.80"/></g>
<g fill="#874480"><circle cx="443.0" cy="172.5" r="2.20"/><circle cx="444.2" cy="172.6" r="2.23"/><circle cx="445.4" cy="172.6" r="2.26"/><circle cx="446.6" cy="172.7" r="2.29"/><circle cx="447.8" cy="172.8" r="2.32"/><circle cx="449.0" cy="172.8" r="2.35"/><circle cx="450.2" cy="172.9" r="2.38"/><circle cx="451.4" cy="173.0" r="2.41"/><circle cx="452.7" cy="173.1" r="2.45"/><circle cx="453.9" cy="173.1" r="2.48"/><circle cx="455.1" cy="173.2" r="2.51"/><circle cx="456.3" cy="173.3" r="2.54"/><circle cx="457.5" cy="173.3" r="2.57"/><circle cx="458.7" cy="173.4" r="2.60"/><circle cx="459.9" cy="173.5" r="2.63"/><circle cx="461.1" cy="173.5" r="2.66"/><circle cx="462.3" cy="173.6" r="2.69"/><circle cx="463.5" cy="173.7" r="2.72"/><circle cx="464.7" cy="173.7" r="2.75"/><circle cx="465.9" cy="173.8" r="2.78"/><circle cx="467.1" cy="173.9" r="2.81"/><circle cx="468.3" cy="173.9" r="2.84"/><circle cx="469.6" cy="174.0" r="2.87"/><circle cx="470.8" cy="174.1" r="2.90"/><circle cx="472.0" cy="174.2" r="2.94"/><circle cx="473.2" cy="174.2" r="2.97"/><circle cx="474.4" cy="174.3" r="3.00"/><circle cx="475.6" cy="174.4" r="3.16"/><circle cx="476.8" cy="174.4" r="3.33"/><circle cx="478.0" cy="174.5" r="3.50"/><circle cx="479.2" cy="174.6" r="3.67"/><circle cx="480.4" cy="174.6" r="3.84"/><circle cx="481.6" cy="174.7" r="4.02"/><circle cx="482.8" cy="174.8" r="4.19"/><circle cx="484.0" cy="174.8" r="4.12"/><circle cx="485.2" cy="174.9" r="4.03"/><circle cx="486.4" cy="175.0" r="3.94"/><circle cx="487.7" cy="175.1" r="3.85"/><circle cx="488.9" cy="175.1" r="3.76"/><circle cx="490.1" cy="175.2" r="3.67"/><circle cx="491.3" cy="175.3" r="3.58"/><circle cx="492.5" cy="175.3" r="3.49"/><circle cx="493.7" cy="175.4" r="3.40"/><circle cx="494.9" cy="175.5" r="3.31"/><circle cx="496.1" cy="175.5" r="3.22"/><circle cx="497.3" cy="175.6" r="3.13"/><circle cx="498.5" cy="175.7" r="3.04"/><circle cx="499.7" cy="175.7" r="2.89"/><circle cx="500.9" cy="175.8" r="2.70"/><circle cx="502.1" cy="175.9" r="2.51"/><circle cx="503.3" cy="175.9" r="2.32"/><circle cx="504.6" cy="176.0" r="2.13"/><circle cx="505.8" cy="176.1" r="1.94"/><circle cx="507.0" cy="176.2" r="1.75"/><circle cx="508.2" cy="176.2" r="1.56"/><circle cx="509.4" cy="176.3" r="1.37"/><circle cx="510.6" cy="176.4" r="1.18"/><circle cx="511.8" cy="176.4" r="0.99"/><circle cx="513.0" cy="176.5" r="0.80"/></g></g>
<g filter="url(#glow)" opacity="0.6"><g fill="#b8f5a4"><circle cx="542.8" cy="114.0" r="3.10"/><circle cx="542.8" cy="115.3" r="3.37"/><circle cx="542.8" cy="116.5" r="3.64"/><circle cx="542.8" cy="117.8" r="3.91"/><circle cx="542.8" cy="119.1" r="4.18"/><circle cx="542.8" cy="120.3" r="4.45"/><circle cx="542.8" cy="121.6" r="4.72"/><circle cx="542.8" cy="122.9" r="4.99"/><circle cx="542.8" cy="124.1" r="5.26"/><circle cx="542.8" cy="125.4" r="5.54"/><circle cx="542.8" cy="126.6" r="5.81"/><circle cx="542.8" cy="127.9" r="6.08"/><circle cx="542.8" cy="129.2" r="6.35"/><circle cx="542.8" cy="130.4" r="6.62"/><circle cx="542.8" cy="131.7" r="6.89"/><circle cx="542.8" cy="133.0" r="7.16"/><circle cx="542.8" cy="134.2" r="7.43"/><circle cx="542.8" cy="135.5" r="7.70"/></g>
<g fill="#b8f5a4"><circle cx="542.8" cy="135.5" r="7.70"/><circle cx="542.8" cy="136.8" r="7.38"/><circle cx="542.8" cy="138.1" r="7.05"/><circle cx="542.8" cy="139.4" r="6.72"/><circle cx="542.8" cy="140.8" r="6.40"/><circle cx="542.8" cy="142.1" r="6.08"/><circle cx="542.8" cy="143.4" r="5.75"/><circle cx="542.8" cy="144.7" r="5.43"/><circle cx="542.8" cy="146.0" r="5.10"/></g>
<g fill="#b8f5a4"><circle cx="542.8" cy="146.0" r="4.90"/><circle cx="542.8" cy="147.2" r="4.89"/><circle cx="542.8" cy="148.4" r="4.89"/><circle cx="542.8" cy="149.6" r="4.88"/><circle cx="542.8" cy="150.8" r="4.88"/><circle cx="542.8" cy="152.0" r="4.87"/><circle cx="542.8" cy="153.2" r="4.86"/><circle cx="542.8" cy="154.4" r="4.86"/><circle cx="542.8" cy="155.6" r="4.85"/><circle cx="542.8" cy="156.8" r="4.84"/><circle cx="542.8" cy="158.0" r="4.84"/><circle cx="542.8" cy="159.2" r="4.83"/><circle cx="542.8" cy="160.4" r="4.83"/><circle cx="542.8" cy="161.6" r="4.82"/><circle cx="542.8" cy="162.8" r="4.81"/><circle cx="542.8" cy="164.0" r="4.81"/><circle cx="542.8" cy="165.2" r="4.80"/><circle cx="542.8" cy="166.4" r="4.80"/><circle cx="542.8" cy="167.6" r="4.79"/><circle cx="542.8" cy="168.8" r="4.78"/><circle cx="542.8" cy="170.0" r="4.78"/><circle cx="542.8" cy="171.2" r="4.77"/><circle cx="542.8" cy="172.4" r="4.76"/><circle cx="542.8" cy="173.6" r="4.76"/><circle cx="542.8" cy="174.8" r="4.75"/><circle cx="542.8" cy="176.0" r="4.75"/><circle cx="542.8" cy="177.2" r="4.74"/><circle cx="542.8" cy="178.4" r="4.73"/><circle cx="542.8" cy="179.6" r="4.73"/><circle cx="542.8" cy="180.8" r="4.72"/><circle cx="542.8" cy="182.0" r="4.72"/><circle cx="542.8" cy="183.2" r="4.71"/><circle cx="542.8" cy="184.4" r="4.70"/><circle cx="542.8" cy="185.6" r="4.70"/><circle cx="542.8" cy="186.8" r="4.69"/><circle cx="542.8" cy="188.0" r="4.68"/><circle cx="542.8" cy="189.2" r="4.68"/><circle cx="542.8" cy="190.4" r="4.67"/><circle cx="542.8" cy="191.6" r="4.67"/><circle cx="542.8" cy="192.8" r="4.66"/><circle cx="542.8" cy="194.0" r="4.65"/><circle cx="542.8" cy="195.2" r="4.65"/><circle cx="542.8" cy="196.4" r="4.64"/><circle cx="542.8" cy="197.6" r="4.64"/><circle cx="542.8" cy="198.8" r="4.63"/><circle cx="542.8" cy="200.0" r="4.62"/><circle cx="542.8" cy="201.2" r="4.62"/><circle cx="542.8" cy="202.4" r="4.61"/><circle cx="542.8" cy="203.6" r="4.60"/><circle cx="542.8" cy="204.8" r="4.60"/><circle cx="542.8" cy="206.0" r="4.59"/><circle cx="542.8" cy="207.2" r="4.59"/><circle cx="542.8" cy="208.4" r="4.58"/><circle cx="542.8" cy="209.6" r="4.57"/><circle cx="542.8" cy="210.8" r="4.57"/><circle cx="542.8" cy="212.0" r="4.56"/><circle cx="542.8" cy="213.2" r="4.56"/><circle cx="542.8" cy="214.4" r="4.55"/><circle cx="542.8" cy="215.6" r="4.54"/><circle cx="542.8" cy="216.8" r="4.54"/><circle cx="542.8" cy="218.0" r="4.53"/><circle cx="542.8" cy="219.2" r="4.52"/><circle cx="542.8" cy="220.4" r="4.52"/><circle cx="542.8" cy="221.6" r="4.51"/><circle cx="542.8" cy="222.8" r="4.51"/><circle cx="542.8" cy="224.0" r="4.50"/></g>
<g fill="#b8f5a4"><circle cx="529.5" cy="141.0" r="5.50"/><circle cx="529.6" cy="142.2" r="5.51"/><circle cx="529.7" cy="143.4" r="5.52"/><circle cx="529.9" cy="144.6" r="5.54"/><circle cx="530.1" cy="145.8" r="5.55"/><circle cx="530.2" cy="147.0" r="5.56"/><circle cx="530.4" cy="148.2" r="5.57"/><circle cx="530.7" cy="149.4" r="5.58"/><circle cx="530.9" cy="150.6" r="5.60"/><circle cx="531.1" cy="151.8" r="5.61"/><circle cx="531.4" cy="153.0" r="5.62"/><circle cx="531.7" cy="154.2" r="5.63"/><circle cx="532.0" cy="155.4" r="5.64"/><circle cx="532.3" cy="156.6" r="5.65"/><circle cx="532.6" cy="157.8" r="5.67"/><circle cx="533.0" cy="158.9" r="5.68"/><circle cx="533.3" cy="160.1" r="5.69"/><circle cx="533.7" cy="161.3" r="5.68"/><circle cx="534.1" cy="162.4" r="5.57"/><circle cx="534.5" cy="163.6" r="5.46"/><circle cx="535.0" cy="164.8" r="5.36"/><circle cx="535.4" cy="165.9" r="5.25"/><circle cx="535.9" cy="167.1" r="5.14"/><circle cx="536.4" cy="168.3" r="5.04"/><circle cx="536.8" cy="169.4" r="4.93"/><circle cx="537.4" cy="170.6" r="4.82"/><circle cx="537.9" cy="171.7" r="4.71"/><circle cx="538.4" cy="172.9" r="4.61"/><circle cx="539.0" cy="174.0" r="4.50"/></g>
<g fill="#b8f5a4"><circle cx="556.5" cy="141.0" r="5.50"/><circle cx="556.4" cy="142.2" r="5.51"/><circle cx="556.3" cy="143.4" r="5.52"/><circle cx="556.1" cy="144.6" r="5.54"/><circle cx="555.9" cy="145.8" r="5.55"/><circle cx="555.8" cy="147.0" r="5.56"/><circle cx="555.6" cy="148.2" r="5.57"/><circle cx="555.3" cy="149.4" r="5.58"/><circle cx="555.1" cy="150.6" r="5.60"/><circle cx="554.9" cy="151.8" r="5.61"/><circle cx="554.6" cy="153.0" r="5.62"/><circle cx="554.3" cy="154.2" r="5.63"/><circle cx="554.0" cy="155.4" r="5.64"/><circle cx="553.7" cy="156.6" r="5.65"/><circle cx="553.4" cy="157.8" r="5.67"/><circle cx="553.0" cy="158.9" r="5.68"/><circle cx="552.7" cy="160.1" r="5.69"/><circle cx="552.3" cy="161.3" r="5.68"/><circle cx="551.9" cy="162.4" r="5.57"/><circle cx="551.5" cy="163.6" r="5.46"/><circle cx="551.0" cy="164.8" r="5.36"/><circle cx="550.6" cy="165.9" r="5.25"/><circle cx="550.1" cy="167.1" r="5.14"/><circle cx="549.6" cy="168.3" r="5.04"/><circle cx="549.2" cy="169.4" r="4.93"/><circle cx="548.6" cy="170.6" r="4.82"/><circle cx="548.1" cy="171.7" r="4.71"/><circle cx="547.6" cy="172.9" r="4.61"/><circle cx="547.0" cy="174.0" r="4.50"/></g>
<g fill="#b8f5a4"><circle cx="540.0" cy="261.5" r="3.30"/><circle cx="539.4" cy="262.6" r="3.40"/><circle cx="538.8" cy="263.6" r="3.50"/><circle cx="538.2" cy="264.7" r="3.60"/><circle cx="537.6" cy="265.8" r="3.70"/><circle cx="537.0" cy="266.8" r="3.80"/><circle cx="536.5" cy="267.9" r="3.90"/><circle cx="535.9" cy="269.0" r="4.00"/><circle cx="535.3" cy="270.0" r="4.10"/><circle cx="534.7" cy="271.1" r="4.20"/><circle cx="534.1" cy="272.2" r="4.30"/><circle cx="533.5" cy="273.2" r="4.40"/><circle cx="532.9" cy="274.3" r="4.50"/><circle cx="532.3" cy="275.4" r="4.60"/><circle cx="531.7" cy="276.5" r="4.70"/><circle cx="531.1" cy="277.5" r="4.80"/><circle cx="530.5" cy="278.6" r="4.90"/><circle cx="530.0" cy="279.7" r="5.00"/><circle cx="529.4" cy="280.7" r="5.10"/><circle cx="528.8" cy="281.8" r="5.20"/><circle cx="528.2" cy="282.9" r="5.30"/><circle cx="527.6" cy="283.9" r="5.40"/><circle cx="527.0" cy="285.0" r="5.50"/></g>
<g fill="#b8f5a4"><circle cx="527.0" cy="285.0" r="5.50"/><circle cx="527.4" cy="286.2" r="5.45"/><circle cx="527.7" cy="287.3" r="5.40"/><circle cx="528.1" cy="288.5" r="5.35"/><circle cx="528.4" cy="289.7" r="5.30"/><circle cx="528.8" cy="290.8" r="5.25"/><circle cx="529.1" cy="292.0" r="5.20"/><circle cx="529.5" cy="293.2" r="5.15"/><circle cx="529.8" cy="294.3" r="5.10"/><circle cx="530.2" cy="295.5" r="5.05"/><circle cx="530.5" cy="296.7" r="5.00"/><circle cx="530.9" cy="297.8" r="4.95"/><circle cx="531.2" cy="299.0" r="4.90"/><circle cx="531.6" cy="300.2" r="4.80"/><circle cx="532.0" cy="301.3" r="4.70"/><circle cx="532.3" cy="302.5" r="4.60"/><circle cx="532.7" cy="303.7" r="4.50"/><circle cx="533.0" cy="304.8" r="4.40"/><circle cx="533.4" cy="306.0" r="4.30"/><circle cx="533.7" cy="307.2" r="4.20"/><circle cx="534.1" cy="308.3" r="4.10"/><circle cx="534.4" cy="309.5" r="4.00"/><circle cx="534.8" cy="310.7" r="3.90"/><circle cx="535.1" cy="311.8" r="3.80"/><circle cx="535.5" cy="313.0" r="3.70"/></g>
<g fill="#b8f5a4"><circle cx="548.5" cy="261.5" r="3.30"/><circle cx="549.1" cy="262.6" r="3.40"/><circle cx="549.6" cy="263.6" r="3.50"/><circle cx="550.2" cy="264.7" r="3.60"/><circle cx="550.8" cy="265.8" r="3.70"/><circle cx="551.3" cy="266.8" r="3.80"/><circle cx="551.9" cy="267.9" r="3.90"/><circle cx="552.5" cy="269.0" r="4.00"/><circle cx="553.0" cy="270.0" r="4.10"/><circle cx="553.6" cy="271.1" r="4.20"/><circle cx="554.2" cy="272.2" r="4.30"/><circle cx="554.8" cy="273.2" r="4.40"/><circle cx="555.3" cy="274.3" r="4.50"/><circle cx="555.9" cy="275.4" r="4.60"/><circle cx="556.5" cy="276.5" r="4.70"/><circle cx="557.0" cy="277.5" r="4.80"/><circle cx="557.6" cy="278.6" r="4.90"/><circle cx="558.2" cy="279.7" r="5.00"/><circle cx="558.7" cy="280.7" r="5.10"/><circle cx="559.3" cy="281.8" r="5.20"/><circle cx="559.9" cy="282.9" r="5.30"/><circle cx="560.4" cy="283.9" r="5.40"/><circle cx="561.0" cy="285.0" r="5.50"/></g>
<g fill="#b8f5a4"><circle cx="561.0" cy="285.0" r="5.50"/><circle cx="560.6" cy="286.2" r="5.45"/><circle cx="560.2" cy="287.3" r="5.40"/><circle cx="559.9" cy="288.5" r="5.35"/><circle cx="559.5" cy="289.7" r="5.30"/><circle cx="559.1" cy="290.8" r="5.25"/><circle cx="558.8" cy="292.0" r="5.20"/><circle cx="558.4" cy="293.2" r="5.15"/><circle cx="558.0" cy="294.3" r="5.10"/><circle cx="557.6" cy="295.5" r="5.05"/><circle cx="557.2" cy="296.7" r="5.00"/><circle cx="556.9" cy="297.8" r="4.95"/><circle cx="556.5" cy="299.0" r="4.90"/><circle cx="556.1" cy="300.2" r="4.80"/><circle cx="555.8" cy="301.3" r="4.70"/><circle cx="555.4" cy="302.5" r="4.60"/><circle cx="555.0" cy="303.7" r="4.50"/><circle cx="554.6" cy="304.8" r="4.40"/><circle cx="554.2" cy="306.0" r="4.30"/><circle cx="553.9" cy="307.2" r="4.20"/><circle cx="553.5" cy="308.3" r="4.10"/><circle cx="553.1" cy="309.5" r="4.00"/><circle cx="552.8" cy="310.7" r="3.90"/><circle cx="552.4" cy="311.8" r="3.80"/><circle cx="552.0" cy="313.0" r="3.70"/></g>
<g fill="#b8f5a4"><circle cx="542.6" cy="318.5" r="3.10"/><circle cx="542.6" cy="319.7" r="3.29"/><circle cx="542.6" cy="321.0" r="3.48"/><circle cx="542.6" cy="322.2" r="3.67"/><circle cx="542.6" cy="323.4" r="3.87"/><circle cx="542.6" cy="324.6" r="4.06"/><circle cx="542.6" cy="325.9" r="4.25"/><circle cx="542.6" cy="327.1" r="4.44"/><circle cx="542.6" cy="328.3" r="4.63"/><circle cx="542.6" cy="329.6" r="4.83"/><circle cx="542.6" cy="330.8" r="5.02"/><circle cx="542.6" cy="332.0" r="5.21"/><circle cx="542.6" cy="333.2" r="5.40"/><circle cx="542.6" cy="334.5" r="5.59"/><circle cx="542.6" cy="335.7" r="5.78"/><circle cx="542.6" cy="336.9" r="5.98"/><circle cx="542.6" cy="338.2" r="6.17"/><circle cx="542.6" cy="339.4" r="6.36"/><circle cx="542.6" cy="340.6" r="6.55"/><circle cx="542.6" cy="341.9" r="6.74"/><circle cx="542.6" cy="343.1" r="6.93"/><circle cx="542.6" cy="344.3" r="7.12"/><circle cx="542.6" cy="345.5" r="7.32"/><circle cx="542.6" cy="346.8" r="7.51"/><circle cx="542.6" cy="348.0" r="7.70"/></g>
<g fill="#b8f5a4"><circle cx="542.6" cy="348.0" r="7.70"/><circle cx="542.6" cy="349.3" r="7.27"/><circle cx="542.6" cy="350.7" r="6.83"/><circle cx="542.6" cy="352.0" r="6.40"/><circle cx="542.6" cy="353.3" r="5.97"/><circle cx="542.6" cy="354.7" r="5.53"/><circle cx="542.6" cy="356.0" r="5.10"/></g>
<g fill="#b8f5a4"><circle cx="542.6" cy="356.0" r="4.90"/><circle cx="542.6" cy="357.2" r="4.89"/><circle cx="542.6" cy="358.4" r="4.89"/><circle cx="542.6" cy="359.6" r="4.88"/><circle cx="542.6" cy="360.8" r="4.88"/><circle cx="542.6" cy="362.0" r="4.87"/><circle cx="542.6" cy="363.2" r="4.87"/><circle cx="542.6" cy="364.4" r="4.86"/><circle cx="542.6" cy="365.6" r="4.86"/><circle cx="542.6" cy="366.8" r="4.85"/><circle cx="542.6" cy="368.1" r="4.85"/><circle cx="542.6" cy="369.3" r="4.84"/><circle cx="542.6" cy="370.5" r="4.83"/><circle cx="542.6" cy="371.7" r="4.83"/><circle cx="542.6" cy="372.9" r="4.82"/><circle cx="542.6" cy="374.1" r="4.82"/><circle cx="542.6" cy="375.3" r="4.81"/><circle cx="542.6" cy="376.5" r="4.81"/><circle cx="542.6" cy="377.7" r="4.80"/><circle cx="542.6" cy="378.9" r="4.80"/><circle cx="542.6" cy="380.1" r="4.79"/><circle cx="542.6" cy="381.3" r="4.78"/><circle cx="542.6" cy="382.5" r="4.78"/><circle cx="542.6" cy="383.7" r="4.77"/><circle cx="542.6" cy="384.9" r="4.77"/><circle cx="542.6" cy="386.1" r="4.76"/><circle cx="542.6" cy="387.3" r="4.76"/><circle cx="542.6" cy="388.5" r="4.75"/><circle cx="542.6" cy="389.8" r="4.75"/><circle cx="542.6" cy="391.0" r="4.74"/><circle cx="542.6" cy="392.2" r="4.74"/><circle cx="542.6" cy="393.4" r="4.73"/><circle cx="542.6" cy="394.6" r="4.72"/><circle cx="542.6" cy="395.8" r="4.72"/><circle cx="542.6" cy="397.0" r="4.71"/><circle cx="542.6" cy="398.2" r="4.71"/><circle cx="542.6" cy="399.4" r="4.70"/><circle cx="542.6" cy="400.6" r="4.70"/><circle cx="542.6" cy="401.8" r="4.69"/><circle cx="542.6" cy="403.0" r="4.69"/><circle cx="542.6" cy="404.2" r="4.68"/><circle cx="542.6" cy="405.4" r="4.68"/><circle cx="542.6" cy="406.6" r="4.67"/><circle cx="542.6" cy="407.8" r="4.66"/><circle cx="542.6" cy="409.0" r="4.66"/><circle cx="542.6" cy="410.2" r="4.65"/><circle cx="542.6" cy="411.5" r="4.65"/><circle cx="542.6" cy="412.7" r="4.64"/><circle cx="542.6" cy="413.9" r="4.64"/><circle cx="542.6" cy="415.1" r="4.63"/><circle cx="542.6" cy="416.3" r="4.63"/><circle cx="542.6" cy="417.5" r="4.62"/><circle cx="542.6" cy="418.7" r="4.62"/><circle cx="542.6" cy="419.9" r="4.61"/><circle cx="542.6" cy="421.1" r="4.60"/><circle cx="542.6" cy="422.3" r="4.60"/><circle cx="542.6" cy="423.5" r="4.59"/><circle cx="542.6" cy="424.7" r="4.59"/><circle cx="542.6" cy="425.9" r="4.58"/><circle cx="542.6" cy="427.1" r="4.58"/><circle cx="542.6" cy="428.3" r="4.57"/><circle cx="542.6" cy="429.5" r="4.57"/><circle cx="542.6" cy="430.7" r="4.56"/><circle cx="542.6" cy="431.9" r="4.55"/><circle cx="542.6" cy="433.2" r="4.55"/><circle cx="542.6" cy="434.4" r="4.54"/><circle cx="542.6" cy="435.6" r="4.54"/><circle cx="542.6" cy="436.8" r="4.53"/><circle cx="542.6" cy="438.0" r="4.53"/><circle cx="542.6" cy="439.2" r="4.52"/><circle cx="542.6" cy="440.4" r="4.52"/><circle cx="542.6" cy="441.6" r="4.51"/><circle cx="542.6" cy="442.8" r="4.51"/><circle cx="542.6" cy="444.0" r="4.50"/></g>
<g fill="#b8f5a4"><circle cx="516.7" cy="454.0" r="5.10"/><circle cx="516.8" cy="456.0" r="5.14"/><circle cx="517.0" cy="458.0" r="5.19"/><circle cx="517.1" cy="459.9" r="5.23"/><circle cx="517.3" cy="461.6" r="5.28"/><circle cx="517.5" cy="463.4" r="5.32"/><circle cx="517.8" cy="465.0" r="5.37"/><circle cx="518.1" cy="466.5" r="5.41"/><circle cx="518.4" cy="468.0" r="5.46"/><circle cx="518.8" cy="469.4" r="5.50"/><circle cx="519.1" cy="470.7" r="5.54"/><circle cx="519.5" cy="471.9" r="5.59"/><circle cx="520.0" cy="473.1" r="5.63"/><circle cx="520.4" cy="474.1" r="5.68"/><circle cx="520.9" cy="475.1" r="5.72"/><circle cx="521.4" cy="476.0" r="5.77"/><circle cx="522.0" cy="476.8" r="5.81"/><circle cx="522.6" cy="477.6" r="5.86"/><circle cx="523.2" cy="478.2" r="5.90"/><circle cx="523.8" cy="478.8" r="5.94"/><circle cx="524.5" cy="479.3" r="5.99"/><circle cx="525.2" cy="479.7" r="6.03"/><circle cx="525.9" cy="480.0" r="6.08"/><circle cx="526.7" cy="480.3" r="6.12"/><circle cx="527.5" cy="480.5" r="6.17"/><circle cx="528.3" cy="480.6" r="6.21"/><circle cx="529.1" cy="480.6" r="6.26"/><circle cx="530.0" cy="480.5" r="6.30"/></g>
<g fill="#b8f5a4"><circle cx="530.0" cy="480.5" r="6.30"/><circle cx="530.6" cy="480.2" r="6.24"/><circle cx="531.2" cy="479.9" r="6.18"/><circle cx="531.7" cy="479.5" r="6.12"/><circle cx="532.2" cy="479.0" r="6.06"/><circle cx="532.8" cy="478.6" r="6.01"/><circle cx="533.3" cy="478.0" r="5.95"/><circle cx="533.8" cy="477.4" r="5.89"/><circle cx="534.3" cy="476.8" r="5.83"/><circle cx="534.8" cy="476.1" r="5.77"/><circle cx="535.2" cy="475.4" r="5.71"/><circle cx="535.7" cy="474.6" r="5.65"/><circle cx="536.1" cy="473.7" r="5.59"/><circle cx="536.5" cy="472.8" r="5.54"/><circle cx="536.9" cy="471.9" r="5.48"/><circle cx="537.3" cy="470.9" r="5.42"/><circle cx="537.7" cy="469.9" r="5.36"/><circle cx="538.1" cy="468.8" r="5.30"/><circle cx="538.5" cy="467.7" r="5.24"/><circle cx="538.8" cy="466.5" r="5.18"/><circle cx="539.1" cy="465.2" r="5.12"/><circle cx="539.5" cy="464.0" r="5.06"/><circle cx="539.8" cy="462.6" r="5.01"/><circle cx="540.1" cy="461.2" r="4.95"/><circle cx="540.3" cy="459.8" r="4.89"/><circle cx="540.6" cy="458.3" r="4.83"/><circle cx="540.8" cy="456.8" r="4.77"/><circle cx="541.1" cy="455.2" r="4.71"/><circle cx="541.3" cy="453.6" r="4.65"/><circle cx="541.5" cy="451.9" r="4.59"/><circle cx="541.7" cy="450.1" r="4.54"/><circle cx="541.9" cy="448.4" r="4.48"/><circle cx="542.1" cy="446.5" r="4.42"/><circle cx="542.3" cy="444.6" r="4.36"/><circle cx="542.4" cy="442.7" r="4.30"/></g>
<g fill="#b8f5a4"><circle cx="570.7" cy="454.0" r="5.10"/><circle cx="570.6" cy="456.0" r="5.14"/><circle cx="570.4" cy="458.0" r="5.19"/><circle cx="570.2" cy="459.9" r="5.23"/><circle cx="570.0" cy="461.6" r="5.28"/><circle cx="569.7" cy="463.4" r="5.32"/><circle cx="569.4" cy="465.0" r="5.37"/><circle cx="569.1" cy="466.5" r="5.41"/><circle cx="568.8" cy="468.0" r="5.46"/><circle cx="568.4" cy="469.4" r="5.50"/><circle cx="568.0" cy="470.7" r="5.54"/><circle cx="567.6" cy="471.9" r="5.59"/><circle cx="567.2" cy="473.1" r="5.63"/><circle cx="566.7" cy="474.1" r="5.68"/><circle cx="566.2" cy="475.1" r="5.72"/><circle cx="565.6" cy="476.0" r="5.77"/><circle cx="565.1" cy="476.8" r="5.81"/><circle cx="564.5" cy="477.6" r="5.86"/><circle cx="563.9" cy="478.2" r="5.90"/><circle cx="563.2" cy="478.8" r="5.94"/><circle cx="562.5" cy="479.3" r="5.99"/><circle cx="561.8" cy="479.7" r="6.03"/><circle cx="561.1" cy="480.0" r="6.08"/><circle cx="560.3" cy="480.3" r="6.12"/><circle cx="559.5" cy="480.5" r="6.17"/><circle cx="558.7" cy="480.6" r="6.21"/><circle cx="557.9" cy="480.6" r="6.26"/><circle cx="557.0" cy="480.5" r="6.30"/></g>
<g fill="#b8f5a4"><circle cx="557.0" cy="480.5" r="6.30"/><circle cx="556.4" cy="480.2" r="6.24"/><circle cx="555.7" cy="479.9" r="6.18"/><circle cx="555.1" cy="479.5" r="6.12"/><circle cx="554.5" cy="479.0" r="6.06"/><circle cx="553.9" cy="478.6" r="6.01"/><circle cx="553.3" cy="478.0" r="5.95"/><circle cx="552.8" cy="477.4" r="5.89"/><circle cx="552.2" cy="476.8" r="5.83"/><circle cx="551.7" cy="476.1" r="5.77"/><circle cx="551.2" cy="475.4" r="5.71"/><circle cx="550.7" cy="474.6" r="5.65"/><circle cx="550.2" cy="473.7" r="5.59"/><circle cx="549.7" cy="472.8" r="5.54"/><circle cx="549.2" cy="471.9" r="5.48"/><circle cx="548.7" cy="470.9" r="5.42"/><circle cx="548.3" cy="469.9" r="5.36"/><circle cx="547.9" cy="468.8" r="5.30"/><circle cx="547.4" cy="467.7" r="5.24"/><circle cx="547.0" cy="466.5" r="5.18"/><circle cx="546.6" cy="465.2" r="5.12"/><circle cx="546.2" cy="464.0" r="5.06"/><circle cx="545.9" cy="462.6" r="5.01"/><circle cx="545.5" cy="461.2" r="4.95"/><circle cx="545.2" cy="459.8" r="4.89"/><circle cx="544.8" cy="458.3" r="4.83"/><circle cx="544.5" cy="456.8" r="4.77"/><circle cx="544.2" cy="455.2" r="4.71"/><circle cx="543.9" cy="453.6" r="4.65"/><circle cx="543.6" cy="451.9" r="4.59"/><circle cx="543.3" cy="450.1" r="4.54"/><circle cx="543.1" cy="448.4" r="4.48"/><circle cx="542.8" cy="446.5" r="4.42"/><circle cx="542.6" cy="444.6" r="4.36"/><circle cx="542.4" cy="442.7" r="4.30"/></g></g>
<g filter="url(#soft)"><g fill="#3f8d3a"><circle cx="542.8" cy="114.0" r="0.60"/><circle cx="542.8" cy="115.3" r="0.87"/><circle cx="542.8" cy="116.5" r="1.14"/><circle cx="542.8" cy="117.8" r="1.41"/><circle cx="542.8" cy="119.1" r="1.68"/><circle cx="542.8" cy="120.3" r="1.95"/><circle cx="542.8" cy="121.6" r="2.22"/><circle cx="542.8" cy="122.9" r="2.49"/><circle cx="542.8" cy="124.1" r="2.76"/><circle cx="542.8" cy="125.4" r="3.04"/><circle cx="542.8" cy="126.6" r="3.31"/><circle cx="542.8" cy="127.9" r="3.58"/><circle cx="542.8" cy="129.2" r="3.85"/><circle cx="542.8" cy="130.4" r="4.12"/><circle cx="542.8" cy="131.7" r="4.39"/><circle cx="542.8" cy="133.0" r="4.66"/><circle cx="542.8" cy="134.2" r="4.93"/><circle cx="542.8" cy="135.5" r="5.20"/></g>
<g fill="#3f8d3a"><circle cx="542.8" cy="135.5" r="5.20"/><circle cx="542.8" cy="136.8" r="4.88"/><circle cx="542.8" cy="138.1" r="4.55"/><circle cx="542.8" cy="139.4" r="4.22"/><circle cx="542.8" cy="140.8" r="3.90"/><circle cx="542.8" cy="142.1" r="3.58"/><circle cx="542.8" cy="143.4" r="3.25"/><circle cx="542.8" cy="144.7" r="2.93"/><circle cx="542.8" cy="146.0" r="2.60"/></g>
<g fill="#4f9a46"><circle cx="542.8" cy="146.0" r="2.40"/><circle cx="542.8" cy="147.2" r="2.39"/><circle cx="542.8" cy="148.4" r="2.39"/><circle cx="542.8" cy="149.6" r="2.38"/><circle cx="542.8" cy="150.8" r="2.38"/><circle cx="542.8" cy="152.0" r="2.37"/><circle cx="542.8" cy="153.2" r="2.36"/><circle cx="542.8" cy="154.4" r="2.36"/><circle cx="542.8" cy="155.6" r="2.35"/><circle cx="542.8" cy="156.8" r="2.34"/><circle cx="542.8" cy="158.0" r="2.34"/><circle cx="542.8" cy="159.2" r="2.33"/><circle cx="542.8" cy="160.4" r="2.33"/><circle cx="542.8" cy="161.6" r="2.32"/><circle cx="542.8" cy="162.8" r="2.31"/><circle cx="542.8" cy="164.0" r="2.31"/><circle cx="542.8" cy="165.2" r="2.30"/><circle cx="542.8" cy="166.4" r="2.30"/><circle cx="542.8" cy="167.6" r="2.29"/><circle cx="542.8" cy="168.8" r="2.28"/><circle cx="542.8" cy="170.0" r="2.28"/><circle cx="542.8" cy="171.2" r="2.27"/><circle cx="542.8" cy="172.4" r="2.26"/><circle cx="542.8" cy="173.6" r="2.26"/><circle cx="542.8" cy="174.8" r="2.25"/><circle cx="542.8" cy="176.0" r="2.25"/><circle cx="542.8" cy="177.2" r="2.24"/><circle cx="542.8" cy="178.4" r="2.23"/><circle cx="542.8" cy="179.6" r="2.23"/><circle cx="542.8" cy="180.8" r="2.22"/><circle cx="542.8" cy="182.0" r="2.22"/><circle cx="542.8" cy="183.2" r="2.21"/><circle cx="542.8" cy="184.4" r="2.20"/><circle cx="542.8" cy="185.6" r="2.20"/><circle cx="542.8" cy="186.8" r="2.19"/><circle cx="542.8" cy="188.0" r="2.18"/><circle cx="542.8" cy="189.2" r="2.18"/><circle cx="542.8" cy="190.4" r="2.17"/><circle cx="542.8" cy="191.6" r="2.17"/><circle cx="542.8" cy="192.8" r="2.16"/><circle cx="542.8" cy="194.0" r="2.15"/><circle cx="542.8" cy="195.2" r="2.15"/><circle cx="542.8" cy="196.4" r="2.14"/><circle cx="542.8" cy="197.6" r="2.14"/><circle cx="542.8" cy="198.8" r="2.13"/><circle cx="542.8" cy="200.0" r="2.12"/><circle cx="542.8" cy="201.2" r="2.12"/><circle cx="542.8" cy="202.4" r="2.11"/><circle cx="542.8" cy="203.6" r="2.10"/><circle cx="542.8" cy="204.8" r="2.10"/><circle cx="542.8" cy="206.0" r="2.09"/><circle cx="542.8" cy="207.2" r="2.09"/><circle cx="542.8" cy="208.4" r="2.08"/><circle cx="542.8" cy="209.6" r="2.07"/><circle cx="542.8" cy="210.8" r="2.07"/><circle cx="542.8" cy="212.0" r="2.06"/><circle cx="542.8" cy="213.2" r="2.06"/><circle cx="542.8" cy="214.4" r="2.05"/><circle cx="542.8" cy="215.6" r="2.04"/><circle cx="542.8" cy="216.8" r="2.04"/><circle cx="542.8" cy="218.0" r="2.03"/><circle cx="542.8" cy="219.2" r="2.02"/><circle cx="542.8" cy="220.4" r="2.02"/><circle cx="542.8" cy="221.6" r="2.01"/><circle cx="542.8" cy="222.8" r="2.01"/><circle cx="542.8" cy="224.0" r="2.00"/></g>
<g fill="#3f8d3a"><circle cx="529.5" cy="141.0" r="3.00"/><circle cx="529.6" cy="142.2" r="3.01"/><circle cx="529.7" cy="143.4" r="3.02"/><circle cx="529.9" cy="144.6" r="3.04"/><circle cx="530.1" cy="145.8" r="3.05"/><circle cx="530.2" cy="147.0" r="3.06"/><circle cx="530.4" cy="148.2" r="3.07"/><circle cx="530.7" cy="149.4" r="3.08"/><circle cx="530.9" cy="150.6" r="3.10"/><circle cx="531.1" cy="151.8" r="3.11"/><circle cx="531.4" cy="153.0" r="3.12"/><circle cx="531.7" cy="154.2" r="3.13"/><circle cx="532.0" cy="155.4" r="3.14"/><circle cx="532.3" cy="156.6" r="3.15"/><circle cx="532.6" cy="157.8" r="3.17"/><circle cx="533.0" cy="158.9" r="3.18"/><circle cx="533.3" cy="160.1" r="3.19"/><circle cx="533.7" cy="161.3" r="3.18"/><circle cx="534.1" cy="162.4" r="3.07"/><circle cx="534.5" cy="163.6" r="2.96"/><circle cx="535.0" cy="164.8" r="2.86"/><circle cx="535.4" cy="165.9" r="2.75"/><circle cx="535.9" cy="167.1" r="2.64"/><circle cx="536.4" cy="168.3" r="2.54"/><circle cx="536.8" cy="169.4" r="2.43"/><circle cx="537.4" cy="170.6" r="2.32"/><circle cx="537.9" cy="171.7" r="2.21"/><circle cx="538.4" cy="172.9" r="2.11"/><circle cx="539.0" cy="174.0" r="2.00"/></g>
<g fill="#3f8d3a"><circle cx="556.5" cy="141.0" r="3.00"/><circle cx="556.4" cy="142.2" r="3.01"/><circle cx="556.3" cy="143.4" r="3.02"/><circle cx="556.1" cy="144.6" r="3.04"/><circle cx="555.9" cy="145.8" r="3.05"/><circle cx="555.8" cy="147.0" r="3.06"/><circle cx="555.6" cy="148.2" r="3.07"/><circle cx="555.3" cy="149.4" r="3.08"/><circle cx="555.1" cy="150.6" r="3.10"/><circle cx="554.9" cy="151.8" r="3.11"/><circle cx="554.6" cy="153.0" r="3.12"/><circle cx="554.3" cy="154.2" r="3.13"/><circle cx="554.0" cy="155.4" r="3.14"/><circle cx="553.7" cy="156.6" r="3.15"/><circle cx="553.4" cy="157.8" r="3.17"/><circle cx="553.0" cy="158.9" r="3.18"/><circle cx="552.7" cy="160.1" r="3.19"/><circle cx="552.3" cy="161.3" r="3.18"/><circle cx="551.9" cy="162.4" r="3.07"/><circle cx="551.5" cy="163.6" r="2.96"/><circle cx="551.0" cy="164.8" r="2.86"/><circle cx="550.6" cy="165.9" r="2.75"/><circle cx="550.1" cy="167.1" r="2.64"/><circle cx="549.6" cy="168.3" r="2.54"/><circle cx="549.2" cy="169.4" r="2.43"/><circle cx="548.6" cy="170.6" r="2.32"/><circle cx="548.1" cy="171.7" r="2.21"/><circle cx="547.6" cy="172.9" r="2.11"/><circle cx="547.0" cy="174.0" r="2.00"/></g>
<g fill="#3f8d3a"><circle cx="540.0" cy="261.5" r="0.80"/><circle cx="539.4" cy="262.6" r="0.90"/><circle cx="538.8" cy="263.6" r="1.00"/><circle cx="538.2" cy="264.7" r="1.10"/><circle cx="537.6" cy="265.8" r="1.20"/><circle cx="537.0" cy="266.8" r="1.30"/><circle cx="536.5" cy="267.9" r="1.40"/><circle cx="535.9" cy="269.0" r="1.50"/><circle cx="535.3" cy="270.0" r="1.60"/><circle cx="534.7" cy="271.1" r="1.70"/><circle cx="534.1" cy="272.2" r="1.80"/><circle cx="533.5" cy="273.2" r="1.90"/><circle cx="532.9" cy="274.3" r="2.00"/><circle cx="532.3" cy="275.4" r="2.10"/><circle cx="531.7" cy="276.5" r="2.20"/><circle cx="531.1" cy="277.5" r="2.30"/><circle cx="530.5" cy="278.6" r="2.40"/><circle cx="530.0" cy="279.7" r="2.50"/><circle cx="529.4" cy="280.7" r="2.60"/><circle cx="528.8" cy="281.8" r="2.70"/><circle cx="528.2" cy="282.9" r="2.80"/><circle cx="527.6" cy="283.9" r="2.90"/><circle cx="527.0" cy="285.0" r="3.00"/></g>
<g fill="#3f8d3a"><circle cx="527.0" cy="285.0" r="3.00"/><circle cx="527.4" cy="286.2" r="2.95"/><circle cx="527.7" cy="287.3" r="2.90"/><circle cx="528.1" cy="288.5" r="2.85"/><circle cx="528.4" cy="289.7" r="2.80"/><circle cx="528.8" cy="290.8" r="2.75"/><circle cx="529.1" cy="292.0" r="2.70"/><circle cx="529.5" cy="293.2" r="2.65"/><circle cx="529.8" cy="294.3" r="2.60"/><circle cx="530.2" cy="295.5" r="2.55"/><circle cx="530.5" cy="296.7" r="2.50"/><circle cx="530.9" cy="297.8" r="2.45"/><circle cx="531.2" cy="299.0" r="2.40"/><circle cx="531.6" cy="300.2" r="2.30"/><circle cx="532.0" cy="301.3" r="2.20"/><circle cx="532.3" cy="302.5" r="2.10"/><circle cx="532.7" cy="303.7" r="2.00"/><circle cx="533.0" cy="304.8" r="1.90"/><circle cx="533.4" cy="306.0" r="1.80"/><circle cx="533.7" cy="307.2" r="1.70"/><circle cx="534.1" cy="308.3" r="1.60"/><circle cx="534.4" cy="309.5" r="1.50"/><circle cx="534.8" cy="310.7" r="1.40"/><circle cx="535.1" cy="311.8" r="1.30"/><circle cx="535.5" cy="313.0" r="1.20"/></g>
<g fill="#3f8d3a"><circle cx="548.5" cy="261.5" r="0.80"/><circle cx="549.1" cy="262.6" r="0.90"/><circle cx="549.6" cy="263.6" r="1.00"/><circle cx="550.2" cy="264.7" r="1.10"/><circle cx="550.8" cy="265.8" r="1.20"/><circle cx="551.3" cy="266.8" r="1.30"/><circle cx="551.9" cy="267.9" r="1.40"/><circle cx="552.5" cy="269.0" r="1.50"/><circle cx="553.0" cy="270.0" r="1.60"/><circle cx="553.6" cy="271.1" r="1.70"/><circle cx="554.2" cy="272.2" r="1.80"/><circle cx="554.8" cy="273.2" r="1.90"/><circle cx="555.3" cy="274.3" r="2.00"/><circle cx="555.9" cy="275.4" r="2.10"/><circle cx="556.5" cy="276.5" r="2.20"/><circle cx="557.0" cy="277.5" r="2.30"/><circle cx="557.6" cy="278.6" r="2.40"/><circle cx="558.2" cy="279.7" r="2.50"/><circle cx="558.7" cy="280.7" r="2.60"/><circle cx="559.3" cy="281.8" r="2.70"/><circle cx="559.9" cy="282.9" r="2.80"/><circle cx="560.4" cy="283.9" r="2.90"/><circle cx="561.0" cy="285.0" r="3.00"/></g>
<g fill="#3f8d3a"><circle cx="561.0" cy="285.0" r="3.00"/><circle cx="560.6" cy="286.2" r="2.95"/><circle cx="560.2" cy="287.3" r="2.90"/><circle cx="559.9" cy="288.5" r="2.85"/><circle cx="559.5" cy="289.7" r="2.80"/><circle cx="559.1" cy="290.8" r="2.75"/><circle cx="558.8" cy="292.0" r="2.70"/><circle cx="558.4" cy="293.2" r="2.65"/><circle cx="558.0" cy="294.3" r="2.60"/><circle cx="557.6" cy="295.5" r="2.55"/><circle cx="557.2" cy="296.7" r="2.50"/><circle cx="556.9" cy="297.8" r="2.45"/><circle cx="556.5" cy="299.0" r="2.40"/><circle cx="556.1" cy="300.2" r="2.30"/><circle cx="555.8" cy="301.3" r="2.20"/><circle cx="555.4" cy="302.5" r="2.10"/><circle cx="555.0" cy="303.7" r="2.00"/><circle cx="554.6" cy="304.8" r="1.90"/><circle cx="554.2" cy="306.0" r="1.80"/><circle cx="553.9" cy="307.2" r="1.70"/><circle cx="553.5" cy="308.3" r="1.60"/><circle cx="553.1" cy="309.5" r="1.50"/><circle cx="552.8" cy="310.7" r="1.40"/><circle cx="552.4" cy="311.8" r="1.30"/><circle cx="552.0" cy="313.0" r="1.20"/></g>
<g fill="#3f8d3a"><circle cx="542.6" cy="318.5" r="0.60"/><circle cx="542.6" cy="319.7" r="0.79"/><circle cx="542.6" cy="321.0" r="0.98"/><circle cx="542.6" cy="322.2" r="1.18"/><circle cx="542.6" cy="323.4" r="1.37"/><circle cx="542.6" cy="324.6" r="1.56"/><circle cx="542.6" cy="325.9" r="1.75"/><circle cx="542.6" cy="327.1" r="1.94"/><circle cx="542.6" cy="328.3" r="2.13"/><circle cx="542.6" cy="329.6" r="2.33"/><circle cx="542.6" cy="330.8" r="2.52"/><circle cx="542.6" cy="332.0" r="2.71"/><circle cx="542.6" cy="333.2" r="2.90"/><circle cx="542.6" cy="334.5" r="3.09"/><circle cx="542.6" cy="335.7" r="3.28"/><circle cx="542.6" cy="336.9" r="3.48"/><circle cx="542.6" cy="338.2" r="3.67"/><circle cx="542.6" cy="339.4" r="3.86"/><circle cx="542.6" cy="340.6" r="4.05"/><circle cx="542.6" cy="341.9" r="4.24"/><circle cx="542.6" cy="343.1" r="4.43"/><circle cx="542.6" cy="344.3" r="4.62"/><circle cx="542.6" cy="345.5" r="4.82"/><circle cx="542.6" cy="346.8" r="5.01"/><circle cx="542.6" cy="348.0" r="5.20"/></g>
<g fill="#3f8d3a"><circle cx="542.6" cy="348.0" r="5.20"/><circle cx="542.6" cy="349.3" r="4.77"/><circle cx="542.6" cy="350.7" r="4.33"/><circle cx="542.6" cy="352.0" r="3.90"/><circle cx="542.6" cy="353.3" r="3.47"/><circle cx="542.6" cy="354.7" r="3.03"/><circle cx="542.6" cy="356.0" r="2.60"/></g>
<g fill="#57a04c"><circle cx="542.6" cy="356.0" r="2.40"/><circle cx="542.6" cy="357.2" r="2.39"/><circle cx="542.6" cy="358.4" r="2.39"/><circle cx="542.6" cy="359.6" r="2.38"/><circle cx="542.6" cy="360.8" r="2.38"/><circle cx="542.6" cy="362.0" r="2.37"/><circle cx="542.6" cy="363.2" r="2.37"/><circle cx="542.6" cy="364.4" r="2.36"/><circle cx="542.6" cy="365.6" r="2.36"/><circle cx="542.6" cy="366.8" r="2.35"/><circle cx="542.6" cy="368.1" r="2.35"/><circle cx="542.6" cy="369.3" r="2.34"/><circle cx="542.6" cy="370.5" r="2.33"/><circle cx="542.6" cy="371.7" r="2.33"/><circle cx="542.6" cy="372.9" r="2.32"/><circle cx="542.6" cy="374.1" r="2.32"/><circle cx="542.6" cy="375.3" r="2.31"/><circle cx="542.6" cy="376.5" r="2.31"/><circle cx="542.6" cy="377.7" r="2.30"/><circle cx="542.6" cy="378.9" r="2.30"/><circle cx="542.6" cy="380.1" r="2.29"/><circle cx="542.6" cy="381.3" r="2.28"/><circle cx="542.6" cy="382.5" r="2.28"/><circle cx="542.6" cy="383.7" r="2.27"/><circle cx="542.6" cy="384.9" r="2.27"/><circle cx="542.6" cy="386.1" r="2.26"/><circle cx="542.6" cy="387.3" r="2.26"/><circle cx="542.6" cy="388.5" r="2.25"/><circle cx="542.6" cy="389.8" r="2.25"/><circle cx="542.6" cy="391.0" r="2.24"/><circle cx="542.6" cy="392.2" r="2.24"/><circle cx="542.6" cy="393.4" r="2.23"/><circle cx="542.6" cy="394.6" r="2.22"/><circle cx="542.6" cy="395.8" r="2.22"/><circle cx="542.6" cy="397.0" r="2.21"/><circle cx="542.6" cy="398.2" r="2.21"/><circle cx="542.6" cy="399.4" r="2.20"/><circle cx="542.6" cy="400.6" r="2.20"/><circle cx="542.6" cy="401.8" r="2.19"/><circle cx="542.6" cy="403.0" r="2.19"/><circle cx="542.6" cy="404.2" r="2.18"/><circle cx="542.6" cy="405.4" r="2.18"/><circle cx="542.6" cy="406.6" r="2.17"/><circle cx="542.6" cy="407.8" r="2.16"/><circle cx="542.6" cy="409.0" r="2.16"/><circle cx="542.6" cy="410.2" r="2.15"/><circle cx="542.6" cy="411.5" r="2.15"/><circle cx="542.6" cy="412.7" r="2.14"/><circle cx="542.6" cy="413.9" r="2.14"/><circle cx="542.6" cy="415.1" r="2.13"/><circle cx="542.6" cy="416.3" r="2.13"/><circle cx="542.6" cy="417.5" r="2.12"/><circle cx="542.6" cy="418.7" r="2.12"/><circle cx="542.6" cy="419.9" r="2.11"/><circle cx="542.6" cy="421.1" r="2.10"/><circle cx="542.6" cy="422.3" r="2.10"/><circle cx="542.6" cy="423.5" r="2.09"/><circle cx="542.6" cy="424.7" r="2.09"/><circle cx="542.6" cy="425.9" r="2.08"/><circle cx="542.6" cy="427.1" r="2.08"/><circle cx="542.6" cy="428.3" r="2.07"/><circle cx="542.6" cy="429.5" r="2.07"/><circle cx="542.6" cy="430.7" r="2.06"/><circle cx="542.6" cy="431.9" r="2.05"/><circle cx="542.6" cy="433.2" r="2.05"/><circle cx="542.6" cy="434.4" r="2.04"/><circle cx="542.6" cy="435.6" r="2.04"/><circle cx="542.6" cy="436.8" r="2.03"/><circle cx="542.6" cy="438.0" r="2.03"/><circle cx="542.6" cy="439.2" r="2.02"/><circle cx="542.6" cy="440.4" r="2.02"/><circle cx="542.6" cy="441.6" r="2.01"/><circle cx="542.6" cy="442.8" r="2.01"/><circle cx="542.6" cy="444.0" r="2.00"/></g>
<g fill="#4c9845"><circle cx="516.7" cy="454.0" r="2.60"/><circle cx="516.8" cy="456.0" r="2.64"/><circle cx="517.0" cy="458.0" r="2.69"/><circle cx="517.1" cy="459.9" r="2.73"/><circle cx="517.3" cy="461.6" r="2.78"/><circle cx="517.5" cy="463.4" r="2.82"/><circle cx="517.8" cy="465.0" r="2.87"/><circle cx="518.1" cy="466.5" r="2.91"/><circle cx="518.4" cy="468.0" r="2.96"/><circle cx="518.8" cy="469.4" r="3.00"/><circle cx="519.1" cy="470.7" r="3.04"/><circle cx="519.5" cy="471.9" r="3.09"/><circle cx="520.0" cy="473.1" r="3.13"/><circle cx="520.4" cy="474.1" r="3.18"/><circle cx="520.9" cy="475.1" r="3.22"/><circle cx="521.4" cy="476.0" r="3.27"/><circle cx="522.0" cy="476.8" r="3.31"/><circle cx="522.6" cy="477.6" r="3.36"/><circle cx="523.2" cy="478.2" r="3.40"/><circle cx="523.8" cy="478.8" r="3.44"/><circle cx="524.5" cy="479.3" r="3.49"/><circle cx="525.2" cy="479.7" r="3.53"/><circle cx="525.9" cy="480.0" r="3.58"/><circle cx="526.7" cy="480.3" r="3.62"/><circle cx="527.5" cy="480.5" r="3.67"/><circle cx="528.3" cy="480.6" r="3.71"/><circle cx="529.1" cy="480.6" r="3.76"/><circle cx="530.0" cy="480.5" r="3.80"/></g>
<g fill="#4c9845"><circle cx="530.0" cy="480.5" r="3.80"/><circle cx="530.6" cy="480.2" r="3.74"/><circle cx="531.2" cy="479.9" r="3.68"/><circle cx="531.7" cy="479.5" r="3.62"/><circle cx="532.2" cy="479.0" r="3.56"/><circle cx="532.8" cy="478.6" r="3.51"/><circle cx="533.3" cy="478.0" r="3.45"/><circle cx="533.8" cy="477.4" r="3.39"/><circle cx="534.3" cy="476.8" r="3.33"/><circle cx="534.8" cy="476.1" r="3.27"/><circle cx="535.2" cy="475.4" r="3.21"/><circle cx="535.7" cy="474.6" r="3.15"/><circle cx="536.1" cy="473.7" r="3.09"/><circle cx="536.5" cy="472.8" r="3.04"/><circle cx="536.9" cy="471.9" r="2.98"/><circle cx="537.3" cy="470.9" r="2.92"/><circle cx="537.7" cy="469.9" r="2.86"/><circle cx="538.1" cy="468.8" r="2.80"/><circle cx="538.5" cy="467.7" r="2.74"/><circle cx="538.8" cy="466.5" r="2.68"/><circle cx="539.1" cy="465.2" r="2.62"/><circle cx="539.5" cy="464.0" r="2.56"/><circle cx="539.8" cy="462.6" r="2.51"/><circle cx="540.1" cy="461.2" r="2.45"/><circle cx="540.3" cy="459.8" r="2.39"/><circle cx="540.6" cy="458.3" r="2.33"/><circle cx="540.8" cy="456.8" r="2.27"/><circle cx="541.1" cy="455.2" r="2.21"/><circle cx="541.3" cy="453.6" r="2.15"/><circle cx="541.5" cy="451.9" r="2.09"/><circle cx="541.7" cy="450.1" r="2.04"/><circle cx="541.9" cy="448.4" r="1.98"/><circle cx="542.1" cy="446.5" r="1.92"/><circle cx="542.3" cy="444.6" r="1.86"/><circle cx="542.4" cy="442.7" r="1.80"/></g>
<g fill="#4c9845"><circle cx="570.7" cy="454.0" r="2.60"/><circle cx="570.6" cy="456.0" r="2.64"/><circle cx="570.4" cy="458.0" r="2.69"/><circle cx="570.2" cy="459.9" r="2.73"/><circle cx="570.0" cy="461.6" r="2.78"/><circle cx="569.7" cy="463.4" r="2.82"/><circle cx="569.4" cy="465.0" r="2.87"/><circle cx="569.1" cy="466.5" r="2.91"/><circle cx="568.8" cy="468.0" r="2.96"/><circle cx="568.4" cy="469.4" r="3.00"/><circle cx="568.0" cy="470.7" r="3.04"/><circle cx="567.6" cy="471.9" r="3.09"/><circle cx="567.2" cy="473.1" r="3.13"/><circle cx="566.7" cy="474.1" r="3.18"/><circle cx="566.2" cy="475.1" r="3.22"/><circle cx="565.6" cy="476.0" r="3.27"/><circle cx="565.1" cy="476.8" r="3.31"/><circle cx="564.5" cy="477.6" r="3.36"/><circle cx="563.9" cy="478.2" r="3.40"/><circle cx="563.2" cy="478.8" r="3.44"/><circle cx="562.5" cy="479.3" r="3.49"/><circle cx="561.8" cy="479.7" r="3.53"/><circle cx="561.1" cy="480.0" r="3.58"/><circle cx="560.3" cy="480.3" r="3.62"/><circle cx="559.5" cy="480.5" r="3.67"/><circle cx="558.7" cy="480.6" r="3.71"/><circle cx="557.9" cy="480.6" r="3.76"/><circle cx="557.0" cy="480.5" r="3.80"/></g>
<g fill="#4c9845"><circle cx="557.0" cy="480.5" r="3.80"/><circle cx="556.4" cy="480.2" r="3.74"/><circle cx="555.7" cy="479.9" r="3.68"/><circle cx="555.1" cy="479.5" r="3.62"/><circle cx="554.5" cy="479.0" r="3.56"/><circle cx="553.9" cy="478.6" r="3.51"/><circle cx="553.3" cy="478.0" r="3.45"/><circle cx="552.8" cy="477.4" r="3.39"/><circle cx="552.2" cy="476.8" r="3.33"/><circle cx="551.7" cy="476.1" r="3.27"/><circle cx="551.2" cy="475.4" r="3.21"/><circle cx="550.7" cy="474.6" r="3.15"/><circle cx="550.2" cy="473.7" r="3.09"/><circle cx="549.7" cy="472.8" r="3.04"/><circle cx="549.2" cy="471.9" r="2.98"/><circle cx="548.7" cy="470.9" r="2.92"/><circle cx="548.3" cy="469.9" r="2.86"/><circle cx="547.9" cy="468.8" r="2.80"/><circle cx="547.4" cy="467.7" r="2.74"/><circle cx="547.0" cy="466.5" r="2.68"/><circle cx="546.6" cy="465.2" r="2.62"/><circle cx="546.2" cy="464.0" r="2.56"/><circle cx="545.9" cy="462.6" r="2.51"/><circle cx="545.5" cy="461.2" r="2.45"/><circle cx="545.2" cy="459.8" r="2.39"/><circle cx="544.8" cy="458.3" r="2.33"/><circle cx="544.5" cy="456.8" r="2.27"/><circle cx="544.2" cy="455.2" r="2.21"/><circle cx="543.9" cy="453.6" r="2.15"/><circle cx="543.6" cy="451.9" r="2.09"/><circle cx="543.3" cy="450.1" r="2.04"/><circle cx="543.1" cy="448.4" r="1.98"/><circle cx="542.8" cy="446.5" r="1.92"/><circle cx="542.6" cy="444.6" r="1.86"/><circle cx="542.4" cy="442.7" r="1.80"/></g></g>
<path d="M525.5,141 L525.5,262 M561,141 L561,262" stroke="#8e8e8e" stroke-width="2.4" opacity="0.55" filter="url(#blur1)"/>
</svg>
<div class="t" style="left:132.8px;top:153.3px;font-size:29px;transform:scaleX(1.05);transform-origin:0 0;">入</div>
<div class="t" style="left:175.1px;top:153.3px;font-size:29px;transform:scaleX(1.05);transform-origin:0 0;">水</div>
<div class="t" style="left:796.2px;top:23.0px;font-size:29px;transform:scaleX(1.05);transform-origin:0 0;">出</div>
<div class="t" style="left:837.3px;top:23.0px;font-size:29px;transform:scaleX(1.05);transform-origin:0 0;">水</div>
<div class="t" style="left:703.1px;top:328.0px;font-size:29px;transform:scaleX(1.05);transform-origin:0 0;">加</div>
<div class="t" style="left:745.5px;top:328.0px;font-size:29px;transform:scaleX(1.05);transform-origin:0 0;">长</div>
<div class="t" style="left:786.9px;top:328.0px;font-size:29px;transform:scaleX(1.05);transform-origin:0 0;">桶</div>
<div class="t" style="left:829.1px;top:328.0px;font-size:29px;transform:scaleX(1.05);transform-origin:0 0;">体</div>
<div class="t" style="left:373.1px;top:575.4px;font-size:29px;transform:scaleX(1.05);transform-origin:0 0;">沉</div>
<div class="t" style="left:414.9px;top:575.4px;font-size:29px;transform:scaleX(1.05);transform-origin:0 0;">砂</div>
<div class="t" style="left:457.3px;top:575.4px;font-size:29px;transform:scaleX(1.05);transform-origin:0 0;">罐</div>
<div class="t" style="left:674.7px;top:591.0px;font-size:29px;transform:scaleX(1.05);transform-origin:0 0;">反</div>
<div class="t" style="left:716.6px;top:591.0px;font-size:29px;transform:scaleX(1.05);transform-origin:0 0;">冲</div>
<div class="t" style="left:759.5px;top:591.0px;font-size:29px;transform:scaleX(1.05);transform-origin:0 0;">挡</div>
<div class="t" style="left:800.5px;top:591.0px;font-size:29px;transform:scaleX(1.05);transform-origin:0 0;">板</div>
<div class="t tt" style="left:72.7px;top:292.3px;font-size:30px;">离</div>
<div class="t tt" style="left:112.1px;top:292.3px;font-size:30px;">心</div>
<div class="t tt" style="left:152.2px;top:292.3px;font-size:30px;">过</div>
<div class="t tt" style="left:190.9px;top:292.3px;font-size:30px;">滤</div>
<div class="t tt" style="left:231.7px;top:292.3px;font-size:30px;">器</div>
<div class="t tt" style="left:271.1px;top:292.3px;font-size:30px;">工</div>
<div class="t tt" style="left:310.7px;top:292.3px;font-size:30px;">作</div>
<div class="t tt" style="left:349.3px;top:292.3px;font-size:30px;">原</div>
<div class="t tt" style="left:389.7px;top:292.3px;font-size:30px;">理</div>
<div class="t lg" style="right:250.5px;top:627.2px;font-size:28.5px">清水</div>
<div class="t lg" style="right:250.5px;top:680.2px;font-size:28.5px">水源水</div>
<div class="t lg" style="right:250.5px;top:732.7px;font-size:28.5px">砂石</div>
</body></html>
